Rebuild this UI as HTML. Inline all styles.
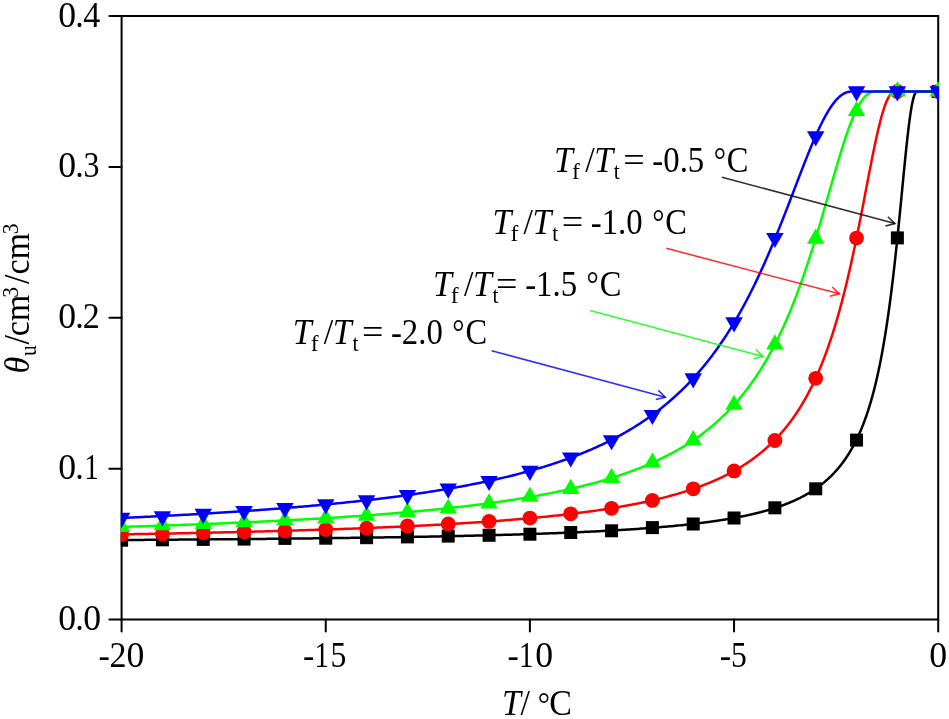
<!DOCTYPE html>
<html><head><meta charset="utf-8"><style>
html,body{margin:0;padding:0;background:#fff;}
svg{display:block;will-change:transform;}
text{font-family:"Liberation Serif",serif;fill:#000;}
</style></head><body>
<svg width="949" height="719" viewBox="0 0 949 719">
<defs><clipPath id="clip"><rect x="120.8" y="0" width="818.20" height="719"/></clipPath></defs>
<rect width="949" height="719" fill="#fff"/>
<g stroke="#000" stroke-width="2" fill="none">
<path d="M121.60,619.60 L121.60,16.10 L938.20,16.10 L938.20,619.60 Z"/>
<line x1="109.4" y1="619.60" x2="121.60" y2="619.60" stroke-linecap="round"/><line x1="109.4" y1="468.73" x2="121.60" y2="468.73" stroke-linecap="round"/><line x1="109.4" y1="317.85" x2="121.60" y2="317.85" stroke-linecap="round"/><line x1="109.4" y1="166.98" x2="121.60" y2="166.98" stroke-linecap="round"/><line x1="109.4" y1="16.10" x2="121.60" y2="16.10" stroke-linecap="round"/><line x1="121.60" y1="619.60" x2="121.60" y2="631.5" stroke-linecap="round"/><line x1="325.75" y1="619.60" x2="325.75" y2="631.5" stroke-linecap="round"/><line x1="529.90" y1="619.60" x2="529.90" y2="631.5" stroke-linecap="round"/><line x1="734.05" y1="619.60" x2="734.05" y2="631.5" stroke-linecap="round"/><line x1="938.20" y1="619.60" x2="938.20" y2="631.5" stroke-linecap="round"/>
</g>
<path d="M121.60,540.02 L123.60,540.01 L125.60,540.00 L127.60,539.98 L129.60,539.97 L131.60,539.96 L133.60,539.95 L135.60,539.93 L137.60,539.92 L139.60,539.91 L141.60,539.89 L143.60,539.88 L145.60,539.87 L147.60,539.85 L149.60,539.84 L151.60,539.82 L153.60,539.81 L155.60,539.80 L157.60,539.78 L159.60,539.77 L161.60,539.76 L163.60,539.74 L165.60,539.73 L167.60,539.71 L169.60,539.70 L171.60,539.68 L173.60,539.67 L175.60,539.65 L177.60,539.64 L179.60,539.62 L181.60,539.61 L183.60,539.59 L185.60,539.58 L187.60,539.56 L189.60,539.55 L191.60,539.53 L193.60,539.52 L195.60,539.50 L197.60,539.49 L199.60,539.47 L201.60,539.45 L203.60,539.44 L205.60,539.42 L207.60,539.40 L209.60,539.39 L211.60,539.37 L213.60,539.36 L215.60,539.34 L217.60,539.32 L219.60,539.30 L221.60,539.29 L223.60,539.27 L225.60,539.25 L227.60,539.24 L229.60,539.22 L231.60,539.20 L233.60,539.18 L235.60,539.16 L237.60,539.15 L239.60,539.13 L241.60,539.11 L243.60,539.09 L245.60,539.07 L247.60,539.06 L249.60,539.04 L251.60,539.02 L253.60,539.00 L255.60,538.98 L257.60,538.96 L259.60,538.94 L261.60,538.92 L263.60,538.90 L265.60,538.88 L267.60,538.86 L269.60,538.84 L271.60,538.82 L273.60,538.80 L275.60,538.78 L277.60,538.76 L279.60,538.74 L281.60,538.72 L283.60,538.70 L285.60,538.67 L287.60,538.65 L289.60,538.63 L291.60,538.61 L293.60,538.59 L295.60,538.57 L297.60,538.54 L299.60,538.52 L301.60,538.50 L303.60,538.48 L305.60,538.45 L307.60,538.43 L309.60,538.41 L311.60,538.38 L313.60,538.36 L315.60,538.34 L317.60,538.31 L319.60,538.29 L321.60,538.26 L323.60,538.24 L325.60,538.21 L327.60,538.19 L329.60,538.16 L331.60,538.14 L333.60,538.11 L335.60,538.09 L337.60,538.06 L339.60,538.03 L341.60,538.01 L343.60,537.98 L345.60,537.95 L347.60,537.93 L349.60,537.90 L351.60,537.87 L353.60,537.85 L355.60,537.82 L357.60,537.79 L359.60,537.76 L361.60,537.73 L363.60,537.70 L365.60,537.67 L367.60,537.64 L369.60,537.62 L371.60,537.59 L373.60,537.56 L375.60,537.53 L377.60,537.49 L379.60,537.46 L381.60,537.43 L383.60,537.40 L385.60,537.37 L387.60,537.34 L389.60,537.31 L391.60,537.27 L393.60,537.24 L395.60,537.21 L397.60,537.17 L399.60,537.14 L401.60,537.11 L403.60,537.07 L405.60,537.04 L407.60,537.00 L409.60,536.97 L411.60,536.93 L413.60,536.90 L415.60,536.86 L417.60,536.82 L419.60,536.79 L421.60,536.75 L423.60,536.71 L425.60,536.67 L427.60,536.64 L429.60,536.60 L431.60,536.56 L433.60,536.52 L435.60,536.48 L437.60,536.44 L439.60,536.40 L441.60,536.36 L443.60,536.32 L445.60,536.27 L447.60,536.23 L449.60,536.19 L451.60,536.15 L453.60,536.10 L455.60,536.06 L457.60,536.02 L459.60,535.97 L461.60,535.93 L463.60,535.88 L465.60,535.83 L467.60,535.79 L469.60,535.74 L471.60,535.69 L473.60,535.64 L475.60,535.60 L477.60,535.55 L479.60,535.50 L481.60,535.45 L483.60,535.40 L485.60,535.35 L487.60,535.29 L489.60,535.24 L491.60,535.19 L493.60,535.14 L495.60,535.08 L497.60,535.03 L499.60,534.97 L501.60,534.92 L503.60,534.86 L505.60,534.80 L507.60,534.75 L509.60,534.69 L511.60,534.63 L513.60,534.57 L515.60,534.51 L517.60,534.45 L519.60,534.39 L521.60,534.32 L523.60,534.26 L525.60,534.20 L527.60,534.13 L529.60,534.07 L531.60,534.00 L533.60,533.93 L535.60,533.87 L537.60,533.80 L539.60,533.73 L541.60,533.66 L543.60,533.59 L545.60,533.52 L547.60,533.44 L549.60,533.37 L551.60,533.29 L553.60,533.22 L555.60,533.14 L557.60,533.06 L559.60,532.99 L561.60,532.91 L563.60,532.83 L565.60,532.74 L567.60,532.66 L569.60,532.58 L571.60,532.49 L573.60,532.41 L575.60,532.32 L577.60,532.23 L579.60,532.14 L581.60,532.05 L583.60,531.96 L585.60,531.86 L587.60,531.77 L589.60,531.67 L591.60,531.58 L593.60,531.48 L595.60,531.38 L597.60,531.27 L599.60,531.17 L601.60,531.07 L603.60,530.96 L605.60,530.85 L607.60,530.74 L609.60,530.63 L611.60,530.52 L613.60,530.41 L615.60,530.29 L617.60,530.17 L619.60,530.05 L621.60,529.93 L623.60,529.81 L625.60,529.68 L627.60,529.56 L629.60,529.43 L631.60,529.29 L633.60,529.16 L635.60,529.03 L637.60,528.89 L639.60,528.75 L641.60,528.60 L643.60,528.46 L645.60,528.31 L647.60,528.16 L649.60,528.01 L651.60,527.85 L653.60,527.70 L655.60,527.54 L657.60,527.37 L659.60,527.21 L661.60,527.04 L663.60,526.86 L665.60,526.69 L667.60,526.51 L669.60,526.33 L671.60,526.14 L673.60,525.95 L675.60,525.76 L677.60,525.57 L679.60,525.37 L681.60,525.16 L683.60,524.95 L685.60,524.74 L687.60,524.53 L689.60,524.30 L691.60,524.08 L693.60,523.85 L695.60,523.62 L697.60,523.38 L699.60,523.13 L700.00,523.08 L700.25,523.05 L700.50,523.02 L700.75,522.99 L701.00,522.96 L701.25,522.93 L701.50,522.90 L701.75,522.86 L702.00,522.83 L702.25,522.80 L702.50,522.77 L702.75,522.74 L703.00,522.71 L703.25,522.67 L703.50,522.64 L703.75,522.61 L704.00,522.58 L704.25,522.54 L704.50,522.51 L704.75,522.48 L705.00,522.45 L705.25,522.41 L705.50,522.38 L705.75,522.35 L706.00,522.32 L706.25,522.28 L706.50,522.25 L706.75,522.22 L707.00,522.18 L707.25,522.15 L707.50,522.12 L707.75,522.08 L708.00,522.05 L708.25,522.01 L708.50,521.98 L708.75,521.95 L709.00,521.91 L709.25,521.88 L709.50,521.84 L709.75,521.81 L710.00,521.78 L710.25,521.74 L710.50,521.71 L710.75,521.67 L711.00,521.64 L711.25,521.60 L711.50,521.57 L711.75,521.53 L712.00,521.50 L712.25,521.46 L712.50,521.43 L712.75,521.39 L713.00,521.35 L713.25,521.32 L713.50,521.28 L713.75,521.25 L714.00,521.21 L714.25,521.17 L714.50,521.14 L714.75,521.10 L715.00,521.07 L715.25,521.03 L715.50,520.99 L715.75,520.96 L716.00,520.92 L716.25,520.88 L716.50,520.84 L716.75,520.81 L717.00,520.77 L717.25,520.73 L717.50,520.70 L717.75,520.66 L718.00,520.62 L718.25,520.58 L718.50,520.54 L718.75,520.51 L719.00,520.47 L719.25,520.43 L719.50,520.39 L719.75,520.35 L720.00,520.32 L720.25,520.28 L720.50,520.24 L720.75,520.20 L721.00,520.16 L721.25,520.12 L721.50,520.08 L721.75,520.04 L722.00,520.00 L722.25,519.96 L722.50,519.92 L722.75,519.88 L723.00,519.84 L723.25,519.80 L723.50,519.76 L723.75,519.72 L724.00,519.68 L724.25,519.64 L724.50,519.60 L724.75,519.56 L725.00,519.52 L725.25,519.48 L725.50,519.44 L725.75,519.40 L726.00,519.36 L726.25,519.31 L726.50,519.27 L726.75,519.23 L727.00,519.19 L727.25,519.15 L727.50,519.10 L727.75,519.06 L728.00,519.02 L728.25,518.98 L728.50,518.93 L728.75,518.89 L729.00,518.85 L729.25,518.81 L729.50,518.76 L729.75,518.72 L730.00,518.68 L730.25,518.63 L730.50,518.59 L730.75,518.54 L731.00,518.50 L731.25,518.46 L731.50,518.41 L731.75,518.37 L732.00,518.32 L732.25,518.28 L732.50,518.23 L732.75,518.19 L733.00,518.14 L733.25,518.10 L733.50,518.05 L733.75,518.01 L734.00,517.96 L734.25,517.92 L734.50,517.87 L734.75,517.83 L735.00,517.78 L735.25,517.73 L735.50,517.69 L735.75,517.64 L736.00,517.59 L736.25,517.55 L736.50,517.50 L736.75,517.45 L737.00,517.40 L737.25,517.36 L737.50,517.31 L737.75,517.26 L738.00,517.21 L738.25,517.17 L738.50,517.12 L738.75,517.07 L739.00,517.02 L739.25,516.97 L739.50,516.92 L739.75,516.87 L740.00,516.82 L740.25,516.78 L740.50,516.73 L740.75,516.68 L741.00,516.63 L741.25,516.58 L741.50,516.53 L741.75,516.48 L742.00,516.43 L742.25,516.38 L742.50,516.32 L742.75,516.27 L743.00,516.22 L743.25,516.17 L743.50,516.12 L743.75,516.07 L744.00,516.02 L744.25,515.96 L744.50,515.91 L744.75,515.86 L745.00,515.81 L745.25,515.75 L745.50,515.70 L745.75,515.65 L746.00,515.60 L746.25,515.54 L746.50,515.49 L746.75,515.43 L747.00,515.38 L747.25,515.33 L747.50,515.27 L747.75,515.22 L748.00,515.16 L748.25,515.11 L748.50,515.05 L748.75,515.00 L749.00,514.94 L749.25,514.89 L749.50,514.83 L749.75,514.78 L750.00,514.72 L750.25,514.66 L750.50,514.61 L750.75,514.55 L751.00,514.49 L751.25,514.44 L751.50,514.38 L751.75,514.32 L752.00,514.26 L752.25,514.21 L752.50,514.15 L752.75,514.09 L753.00,514.03 L753.25,513.97 L753.50,513.91 L753.75,513.86 L754.00,513.80 L754.25,513.74 L754.50,513.68 L754.75,513.62 L755.00,513.56 L755.25,513.50 L755.50,513.44 L755.75,513.38 L756.00,513.31 L756.25,513.25 L756.50,513.19 L756.75,513.13 L757.00,513.07 L757.25,513.01 L757.50,512.94 L757.75,512.88 L758.00,512.82 L758.25,512.76 L758.50,512.69 L758.75,512.63 L759.00,512.57 L759.25,512.50 L759.50,512.44 L759.75,512.37 L760.00,512.31 L760.25,512.24 L760.50,512.18 L760.75,512.11 L761.00,512.05 L761.25,511.98 L761.50,511.92 L761.75,511.85 L762.00,511.78 L762.25,511.72 L762.50,511.65 L762.75,511.58 L763.00,511.52 L763.25,511.45 L763.50,511.38 L763.75,511.31 L764.00,511.24 L764.25,511.18 L764.50,511.11 L764.75,511.04 L765.00,510.97 L765.25,510.90 L765.50,510.83 L765.75,510.76 L766.00,510.69 L766.25,510.62 L766.50,510.55 L766.75,510.48 L767.00,510.40 L767.25,510.33 L767.50,510.26 L767.75,510.19 L768.00,510.12 L768.25,510.04 L768.50,509.97 L768.75,509.90 L769.00,509.82 L769.25,509.75 L769.50,509.67 L769.75,509.60 L770.00,509.52 L770.25,509.45 L770.50,509.37 L770.75,509.30 L771.00,509.22 L771.25,509.15 L771.50,509.07 L771.75,508.99 L772.00,508.92 L772.25,508.84 L772.50,508.76 L772.75,508.68 L773.00,508.60 L773.25,508.53 L773.50,508.45 L773.75,508.37 L774.00,508.29 L774.25,508.21 L774.50,508.13 L774.75,508.05 L775.00,507.97 L775.25,507.88 L775.50,507.80 L775.75,507.72 L776.00,507.64 L776.25,507.56 L776.50,507.47 L776.75,507.39 L777.00,507.31 L777.25,507.22 L777.50,507.14 L777.75,507.05 L778.00,506.97 L778.25,506.88 L778.50,506.80 L778.75,506.71 L779.00,506.63 L779.25,506.54 L779.50,506.45 L779.75,506.37 L780.00,506.28 L780.25,506.19 L780.50,506.10 L780.75,506.01 L781.00,505.92 L781.25,505.83 L781.50,505.74 L781.75,505.65 L782.00,505.56 L782.25,505.47 L782.50,505.38 L782.75,505.29 L783.00,505.20 L783.25,505.11 L783.50,505.01 L783.75,504.92 L784.00,504.83 L784.25,504.73 L784.50,504.64 L784.75,504.54 L785.00,504.45 L785.25,504.35 L785.50,504.25 L785.75,504.16 L786.00,504.06 L786.25,503.96 L786.50,503.87 L786.75,503.77 L787.00,503.67 L787.25,503.57 L787.50,503.47 L787.75,503.37 L788.00,503.27 L788.25,503.17 L788.50,503.07 L788.75,502.97 L789.00,502.87 L789.25,502.76 L789.50,502.66 L789.75,502.56 L790.00,502.45 L790.25,502.35 L790.50,502.24 L790.75,502.14 L791.00,502.03 L791.25,501.93 L791.50,501.82 L791.75,501.71 L792.00,501.60 L792.25,501.50 L792.50,501.39 L792.75,501.28 L793.00,501.17 L793.25,501.06 L793.50,500.95 L793.75,500.84 L794.00,500.73 L794.25,500.61 L794.50,500.50 L794.75,500.39 L795.00,500.27 L795.25,500.16 L795.50,500.05 L795.75,499.93 L796.00,499.81 L796.25,499.70 L796.50,499.58 L796.75,499.46 L797.00,499.35 L797.25,499.23 L797.50,499.11 L797.75,498.99 L798.00,498.87 L798.25,498.75 L798.50,498.63 L798.75,498.51 L799.00,498.38 L799.25,498.26 L799.50,498.14 L799.75,498.01 L800.00,497.89 L800.25,497.76 L800.50,497.64 L800.75,497.51 L801.00,497.38 L801.25,497.26 L801.50,497.13 L801.75,497.00 L802.00,496.87 L802.25,496.74 L802.50,496.61 L802.75,496.48 L803.00,496.34 L803.25,496.21 L803.50,496.08 L803.75,495.94 L804.00,495.81 L804.25,495.67 L804.50,495.54 L804.75,495.40 L805.00,495.26 L805.25,495.13 L805.50,494.99 L805.75,494.85 L806.00,494.71 L806.25,494.57 L806.50,494.42 L806.75,494.28 L807.00,494.14 L807.25,494.00 L807.50,493.85 L807.75,493.71 L808.00,493.56 L808.25,493.41 L808.50,493.27 L808.75,493.12 L809.00,492.97 L809.25,492.82 L809.50,492.67 L809.75,492.52 L810.00,492.37 L810.25,492.21 L810.50,492.06 L810.75,491.90 L811.00,491.75 L811.25,491.59 L811.50,491.44 L811.75,491.28 L812.00,491.12 L812.25,490.96 L812.50,490.80 L812.75,490.64 L813.00,490.48 L813.25,490.32 L813.50,490.15 L813.75,489.99 L814.00,489.82 L814.25,489.66 L814.50,489.49 L814.75,489.32 L815.00,489.15 L815.25,488.98 L815.50,488.81 L815.75,488.64 L816.00,488.47 L816.25,488.29 L816.50,488.12 L816.75,487.94 L817.00,487.77 L817.25,487.59 L817.50,487.41 L817.75,487.23 L818.00,487.05 L818.25,486.87 L818.50,486.69 L818.75,486.51 L819.00,486.32 L819.25,486.14 L819.50,485.95 L819.75,485.76 L820.00,485.57 L820.25,485.38 L820.50,485.19 L820.75,485.00 L821.00,484.81 L821.25,484.61 L821.50,484.42 L821.75,484.22 L822.00,484.03 L822.25,483.83 L822.50,483.63 L822.75,483.43 L823.00,483.23 L823.25,483.02 L823.50,482.82 L823.75,482.61 L824.00,482.41 L824.25,482.20 L824.50,481.99 L824.75,481.78 L825.00,481.57 L825.25,481.35 L825.50,481.14 L825.75,480.93 L826.00,480.71 L826.25,480.49 L826.50,480.27 L826.75,480.05 L827.00,479.83 L827.25,479.61 L827.50,479.38 L827.75,479.16 L828.00,478.93 L828.25,478.70 L828.50,478.47 L828.75,478.24 L829.00,478.00 L829.25,477.77 L829.50,477.53 L829.75,477.30 L830.00,477.06 L830.25,476.82 L830.50,476.58 L830.75,476.33 L831.00,476.09 L831.25,475.84 L831.50,475.59 L831.75,475.35 L832.00,475.09 L832.25,474.84 L832.50,474.59 L832.75,474.33 L833.00,474.07 L833.25,473.81 L833.50,473.55 L833.75,473.29 L834.00,473.03 L834.25,472.76 L834.50,472.49 L834.75,472.22 L835.00,471.95 L835.25,471.68 L835.50,471.41 L835.75,471.13 L836.00,470.85 L836.25,470.57 L836.50,470.29 L836.75,470.01 L837.00,469.72 L837.25,469.43 L837.50,469.14 L837.75,468.85 L838.00,468.56 L838.25,468.26 L838.50,467.96 L838.75,467.67 L839.00,467.36 L839.25,467.06 L839.50,466.75 L839.75,466.45 L840.00,466.14 L840.25,465.82 L840.50,465.51 L840.75,465.19 L841.00,464.88 L841.25,464.56 L841.50,464.23 L841.75,463.91 L842.00,463.58 L842.25,463.25 L842.50,462.92 L842.75,462.58 L843.00,462.25 L843.25,461.91 L843.50,461.56 L843.75,461.22 L844.00,460.87 L844.25,460.52 L844.50,460.17 L844.75,459.82 L845.00,459.46 L845.25,459.10 L845.50,458.74 L845.75,458.38 L846.00,458.01 L846.25,457.64 L846.50,457.27 L846.75,456.89 L847.00,456.51 L847.25,456.13 L847.50,455.75 L847.75,455.36 L848.00,454.97 L848.25,454.58 L848.50,454.18 L848.75,453.78 L849.00,453.38 L849.25,452.98 L849.50,452.57 L849.75,452.16 L850.00,451.74 L850.25,451.33 L850.50,450.91 L850.75,450.48 L851.00,450.05 L851.25,449.62 L851.50,449.19 L851.75,448.75 L852.00,448.31 L852.25,447.87 L852.50,447.42 L852.75,446.97 L853.00,446.52 L853.25,446.06 L853.50,445.59 L853.75,445.13 L854.00,444.66 L854.25,444.19 L854.50,443.71 L854.75,443.23 L855.00,442.74 L855.25,442.25 L855.50,441.76 L855.75,441.26 L856.00,440.76 L856.25,440.26 L856.50,439.75 L856.75,439.24 L857.00,438.72 L857.25,438.20 L857.50,437.67 L857.75,437.14 L858.00,436.60 L858.25,436.06 L858.50,435.52 L858.75,434.97 L859.00,434.42 L859.25,433.86 L859.50,433.29 L859.75,432.73 L860.00,432.15 L860.25,431.57 L860.50,430.99 L860.75,430.40 L861.00,429.81 L861.25,429.21 L861.50,428.61 L861.75,428.00 L862.00,427.38 L862.25,426.76 L862.50,426.14 L862.75,425.51 L863.00,424.87 L863.25,424.23 L863.50,423.58 L863.75,422.93 L864.00,422.27 L864.25,421.60 L864.50,420.93 L864.75,420.25 L865.00,419.57 L865.25,418.88 L865.50,418.18 L865.75,417.48 L866.00,416.77 L866.25,416.05 L866.50,415.33 L866.75,414.60 L867.00,413.86 L867.25,413.12 L867.50,412.37 L867.75,411.61 L868.00,410.85 L868.25,410.07 L868.50,409.30 L868.75,408.51 L869.00,407.71 L869.25,406.91 L869.50,406.10 L869.75,405.29 L870.00,404.46 L870.25,403.63 L870.50,402.79 L870.75,401.94 L871.00,401.08 L871.25,400.21 L871.50,399.34 L871.75,398.46 L872.00,397.56 L872.25,396.66 L872.50,395.75 L872.75,394.83 L873.00,393.91 L873.25,392.97 L873.50,392.02 L873.75,391.07 L874.00,390.10 L874.25,389.12 L874.50,388.14 L874.75,387.14 L875.00,386.14 L875.25,385.12 L875.50,384.10 L875.75,383.06 L876.00,382.01 L876.25,380.95 L876.50,379.89 L876.75,378.81 L877.00,377.72 L877.25,376.61 L877.50,375.50 L877.75,374.37 L878.00,373.24 L878.25,372.09 L878.50,370.93 L878.75,369.75 L879.00,368.57 L879.25,367.37 L879.50,366.16 L879.75,364.94 L880.00,363.70 L880.25,362.45 L880.50,361.19 L880.75,359.92 L881.00,358.63 L881.25,357.33 L881.50,356.01 L881.75,354.68 L882.00,353.33 L882.25,351.98 L882.50,350.60 L882.75,349.22 L883.00,347.81 L883.25,346.40 L883.50,344.96 L883.75,343.52 L884.00,342.05 L884.25,340.57 L884.50,339.08 L884.75,337.57 L885.00,336.04 L885.25,334.50 L885.50,332.94 L885.75,331.37 L886.00,329.78 L886.25,328.17 L886.50,326.54 L886.75,324.90 L887.00,323.24 L887.25,321.56 L887.50,319.87 L887.75,318.15 L888.00,316.42 L888.25,314.68 L888.50,312.91 L888.75,311.13 L889.00,309.32 L889.25,307.50 L889.50,305.66 L889.75,303.80 L890.00,301.93 L890.25,300.03 L890.50,298.12 L890.75,296.18 L891.00,294.23 L891.25,292.26 L891.50,290.27 L891.75,288.26 L892.00,286.23 L892.25,284.18 L892.50,282.12 L892.75,280.03 L893.00,277.93 L893.25,275.80 L893.50,273.66 L893.75,271.50 L894.00,269.32 L894.25,267.12 L894.50,264.90 L894.75,262.66 L895.00,260.41 L895.25,258.13 L895.50,255.84 L895.75,253.54 L896.00,251.21 L896.25,248.87 L896.50,246.51 L896.75,244.13 L897.00,241.74 L897.25,239.33 L897.50,236.91 L897.75,234.47 L898.00,232.02 L898.25,229.55 L898.50,227.07 L898.75,224.58 L899.00,222.08 L899.25,219.56 L899.50,217.03 L899.75,214.50 L900.00,211.95 L900.25,209.40 L900.50,206.84 L900.75,204.27 L901.00,201.70 L901.25,199.12 L901.50,196.54 L901.75,193.96 L902.00,191.37 L902.25,188.79 L902.50,186.20 L902.75,183.62 L903.00,181.04 L903.25,178.47 L903.50,175.91 L903.75,173.35 L904.00,170.80 L904.25,168.26 L904.50,165.74 L904.75,163.23 L905.00,160.73 L905.25,158.25 L905.50,155.80 L905.75,153.36 L906.00,150.94 L906.25,148.55 L906.50,146.19 L906.75,143.85 L907.00,141.55 L907.25,139.28 L907.50,137.04 L907.75,134.83 L908.00,132.67 L908.25,130.54 L908.50,128.45 L908.75,126.41 L909.00,124.41 L909.25,122.46 L909.50,120.56 L909.75,118.71 L910.00,116.91 L910.25,115.16 L910.50,113.47 L910.75,111.83 L911.00,110.25 L911.25,108.74 L911.50,107.28 L911.75,105.88 L912.00,104.55 L912.25,103.28 L912.50,102.07 L912.75,100.93 L913.00,99.86 L913.25,98.85 L913.50,97.91 L913.75,97.04 L914.00,96.23 L914.25,95.49 L914.50,94.82 L914.75,94.21 L915.00,93.67 L915.25,93.19 L915.50,92.78 L915.75,92.43 L916.00,92.15 L916.25,91.92 L916.50,91.75 L916.75,91.63 L917.00,91.56 L917.25,91.54 L917.50,91.54 L917.75,91.54 L918.00,91.54 L918.25,91.54 L918.50,91.54 L918.75,91.54 L919.00,91.54 L919.25,91.54 L919.50,91.54 L919.75,91.54 L920.00,91.54 L920.25,91.54 L920.50,91.54 L920.75,91.54 L921.00,91.54 L921.25,91.54 L921.50,91.54 L921.75,91.54 L922.00,91.54 L922.25,91.54 L922.50,91.54 L922.75,91.54 L923.00,91.54 L923.25,91.54 L923.50,91.54 L923.75,91.54 L924.00,91.54 L924.25,91.54 L924.50,91.54 L924.75,91.54 L925.00,91.54 L925.25,91.54 L925.50,91.54 L925.75,91.54 L926.00,91.54 L926.25,91.54 L926.50,91.54 L926.75,91.54 L927.00,91.54 L927.25,91.54 L927.50,91.54 L927.75,91.54 L928.00,91.54 L928.25,91.54 L928.50,91.54 L928.75,91.54 L929.00,91.54 L929.25,91.54 L929.50,91.54 L929.75,91.54 L930.00,91.54 L930.25,91.54 L930.50,91.54 L930.75,91.54 L931.00,91.54 L931.25,91.54 L931.50,91.54 L931.75,91.54 L932.00,91.54 L932.25,91.54 L932.50,91.54 L932.75,91.54 L933.00,91.54 L933.25,91.54 L933.50,91.54 L933.75,91.54 L934.00,91.54 L934.25,91.54 L934.50,91.54 L934.75,91.54 L935.00,91.54 L935.25,91.54 L935.50,91.54 L935.75,91.54 L936.00,91.54 L936.25,91.54 L936.50,91.54 L936.75,91.54 L937.00,91.54 L937.25,91.54 L937.50,91.54 L937.75,91.54 L938.00,91.54" fill="none" stroke="#000000" stroke-width="2.5" stroke-linejoin="round"/>
<g fill="#000000" clip-path="url(#clip)"><rect x="115.10" y="533.70" width="13.0" height="13.0"/>
<rect x="155.93" y="533.30" width="13.0" height="13.0"/>
<rect x="196.76" y="532.90" width="13.0" height="13.0"/>
<rect x="237.59" y="532.60" width="13.0" height="13.0"/>
<rect x="278.42" y="531.90" width="13.0" height="13.0"/>
<rect x="319.25" y="531.70" width="13.0" height="13.0"/>
<rect x="360.08" y="531.20" width="13.0" height="13.0"/>
<rect x="400.91" y="530.40" width="13.0" height="13.0"/>
<rect x="441.74" y="529.60" width="13.0" height="13.0"/>
<rect x="482.57" y="528.80" width="13.0" height="13.0"/>
<rect x="523.40" y="527.70" width="13.0" height="13.0"/>
<rect x="564.23" y="526.00" width="13.0" height="13.0"/>
<rect x="605.06" y="524.30" width="13.0" height="13.0"/>
<rect x="645.89" y="521.10" width="13.0" height="13.0"/>
<rect x="686.72" y="517.50" width="13.0" height="13.0"/>
<rect x="727.55" y="511.50" width="13.0" height="13.0"/>
<rect x="768.38" y="501.30" width="13.0" height="13.0"/>
<rect x="809.21" y="482.30" width="13.0" height="13.0"/>
<rect x="850.04" y="433.60" width="13.0" height="13.0"/>
<rect x="890.87" y="231.40" width="13.0" height="13.0"/>
<rect x="931.70" y="84.90" width="13.0" height="13.0"/></g>
<path d="M121.60,534.35 L123.60,534.32 L125.60,534.28 L127.60,534.25 L129.60,534.22 L131.60,534.18 L133.60,534.15 L135.60,534.11 L137.60,534.08 L139.60,534.04 L141.60,534.01 L143.60,533.97 L145.60,533.94 L147.60,533.90 L149.60,533.87 L151.60,533.83 L153.60,533.79 L155.60,533.76 L157.60,533.72 L159.60,533.68 L161.60,533.65 L163.60,533.61 L165.60,533.57 L167.60,533.53 L169.60,533.49 L171.60,533.46 L173.60,533.42 L175.60,533.38 L177.60,533.34 L179.60,533.30 L181.60,533.26 L183.60,533.22 L185.60,533.18 L187.60,533.14 L189.60,533.10 L191.60,533.06 L193.60,533.02 L195.60,532.98 L197.60,532.93 L199.60,532.89 L201.60,532.85 L203.60,532.81 L205.60,532.76 L207.60,532.72 L209.60,532.68 L211.60,532.63 L213.60,532.59 L215.60,532.54 L217.60,532.50 L219.60,532.45 L221.60,532.41 L223.60,532.36 L225.60,532.32 L227.60,532.27 L229.60,532.22 L231.60,532.18 L233.60,532.13 L235.60,532.08 L237.60,532.04 L239.60,531.99 L241.60,531.94 L243.60,531.89 L245.60,531.84 L247.60,531.79 L249.60,531.74 L251.60,531.69 L253.60,531.64 L255.60,531.59 L257.60,531.54 L259.60,531.49 L261.60,531.43 L263.60,531.38 L265.60,531.33 L267.60,531.28 L269.60,531.22 L271.60,531.17 L273.60,531.11 L275.60,531.06 L277.60,531.00 L279.60,530.95 L281.60,530.89 L283.60,530.84 L285.60,530.78 L287.60,530.72 L289.60,530.66 L291.60,530.61 L293.60,530.55 L295.60,530.49 L297.60,530.43 L299.60,530.37 L301.60,530.31 L303.60,530.25 L305.60,530.19 L307.60,530.12 L309.60,530.06 L311.60,530.00 L313.60,529.93 L315.60,529.87 L317.60,529.81 L319.60,529.74 L321.60,529.68 L323.60,529.61 L325.60,529.54 L327.60,529.48 L329.60,529.41 L331.60,529.34 L333.60,529.27 L335.60,529.20 L337.60,529.13 L339.60,529.06 L341.60,528.99 L343.60,528.92 L345.60,528.85 L347.60,528.78 L349.60,528.70 L351.60,528.63 L353.60,528.56 L355.60,528.48 L357.60,528.40 L359.60,528.33 L361.60,528.25 L363.60,528.17 L365.60,528.09 L367.60,528.02 L369.60,527.94 L371.60,527.86 L373.60,527.77 L375.60,527.69 L377.60,527.61 L379.60,527.53 L381.60,527.44 L383.60,527.36 L385.60,527.27 L387.60,527.19 L389.60,527.10 L391.60,527.01 L393.60,526.92 L395.60,526.83 L397.60,526.74 L399.60,526.65 L401.60,526.56 L403.60,526.47 L405.60,526.37 L407.60,526.28 L409.60,526.18 L411.60,526.09 L413.60,525.99 L415.60,525.89 L417.60,525.79 L419.60,525.69 L421.60,525.59 L423.60,525.49 L425.60,525.39 L427.60,525.28 L429.60,525.18 L431.60,525.07 L433.60,524.96 L435.60,524.85 L437.60,524.75 L439.60,524.64 L441.60,524.52 L443.60,524.41 L445.60,524.30 L447.60,524.18 L449.60,524.07 L451.60,523.95 L453.60,523.83 L455.60,523.71 L457.60,523.59 L459.60,523.47 L461.60,523.34 L463.60,523.22 L465.60,523.09 L467.60,522.97 L469.60,522.84 L471.60,522.71 L473.60,522.58 L475.60,522.44 L477.60,522.31 L479.60,522.17 L481.60,522.03 L483.60,521.90 L485.60,521.75 L487.60,521.61 L489.60,521.47 L491.60,521.32 L493.60,521.18 L495.60,521.03 L497.60,520.88 L499.60,520.73 L501.60,520.57 L503.60,520.42 L505.60,520.26 L507.60,520.10 L509.60,519.94 L511.60,519.78 L513.60,519.61 L515.60,519.44 L517.60,519.28 L519.60,519.10 L521.60,518.93 L523.60,518.76 L525.60,518.58 L527.60,518.40 L529.60,518.22 L531.60,518.03 L533.60,517.85 L535.60,517.66 L537.60,517.47 L539.60,517.28 L541.60,517.08 L543.60,516.88 L545.60,516.68 L547.60,516.48 L549.60,516.27 L551.60,516.06 L553.60,515.85 L555.60,515.63 L557.60,515.42 L559.60,515.20 L561.60,514.97 L563.60,514.75 L565.60,514.52 L567.60,514.29 L569.60,514.05 L571.60,513.81 L573.60,513.57 L575.60,513.32 L577.60,513.07 L579.60,512.82 L581.60,512.56 L583.60,512.30 L585.60,512.04 L587.60,511.77 L589.60,511.50 L591.60,511.22 L593.60,510.94 L595.60,510.66 L597.60,510.37 L599.60,510.08 L601.60,509.78 L603.60,509.48 L605.60,509.17 L607.60,508.86 L609.60,508.54 L611.60,508.22 L613.60,507.89 L615.60,507.56 L617.60,507.22 L619.60,506.88 L621.60,506.53 L623.60,506.18 L625.60,505.82 L627.60,505.45 L629.60,505.08 L631.60,504.70 L633.60,504.32 L635.60,503.93 L637.60,503.53 L639.60,503.12 L641.60,502.71 L643.60,502.29 L645.60,501.86 L647.60,501.43 L649.60,500.99 L651.60,500.54 L653.60,500.08 L655.60,499.61 L657.60,499.13 L659.60,498.65 L661.60,498.15 L663.60,497.65 L665.60,497.13 L667.60,496.61 L669.60,496.08 L671.60,495.53 L673.60,494.98 L675.60,494.41 L677.60,493.83 L679.60,493.24 L681.60,492.64 L683.60,492.02 L685.60,491.40 L687.60,490.76 L689.60,490.10 L691.60,489.43 L693.60,488.75 L695.60,488.05 L697.60,487.34 L699.60,486.61 L700.00,486.46 L700.25,486.37 L700.50,486.27 L700.75,486.18 L701.00,486.09 L701.25,485.99 L701.50,485.90 L701.75,485.80 L702.00,485.71 L702.25,485.62 L702.50,485.52 L702.75,485.42 L703.00,485.33 L703.25,485.23 L703.50,485.14 L703.75,485.04 L704.00,484.94 L704.25,484.85 L704.50,484.75 L704.75,484.65 L705.00,484.55 L705.25,484.46 L705.50,484.36 L705.75,484.26 L706.00,484.16 L706.25,484.06 L706.50,483.96 L706.75,483.86 L707.00,483.76 L707.25,483.66 L707.50,483.56 L707.75,483.46 L708.00,483.36 L708.25,483.26 L708.50,483.15 L708.75,483.05 L709.00,482.95 L709.25,482.85 L709.50,482.74 L709.75,482.64 L710.00,482.54 L710.25,482.43 L710.50,482.33 L710.75,482.22 L711.00,482.12 L711.25,482.01 L711.50,481.91 L711.75,481.80 L712.00,481.69 L712.25,481.59 L712.50,481.48 L712.75,481.37 L713.00,481.27 L713.25,481.16 L713.50,481.05 L713.75,480.94 L714.00,480.83 L714.25,480.72 L714.50,480.62 L714.75,480.51 L715.00,480.40 L715.25,480.29 L715.50,480.17 L715.75,480.06 L716.00,479.95 L716.25,479.84 L716.50,479.73 L716.75,479.62 L717.00,479.50 L717.25,479.39 L717.50,479.28 L717.75,479.16 L718.00,479.05 L718.25,478.93 L718.50,478.82 L718.75,478.70 L719.00,478.59 L719.25,478.47 L719.50,478.36 L719.75,478.24 L720.00,478.12 L720.25,478.01 L720.50,477.89 L720.75,477.77 L721.00,477.65 L721.25,477.53 L721.50,477.41 L721.75,477.30 L722.00,477.18 L722.25,477.06 L722.50,476.93 L722.75,476.81 L723.00,476.69 L723.25,476.57 L723.50,476.45 L723.75,476.33 L724.00,476.20 L724.25,476.08 L724.50,475.96 L724.75,475.83 L725.00,475.71 L725.25,475.58 L725.50,475.46 L725.75,475.33 L726.00,475.21 L726.25,475.08 L726.50,474.95 L726.75,474.83 L727.00,474.70 L727.25,474.57 L727.50,474.44 L727.75,474.31 L728.00,474.18 L728.25,474.05 L728.50,473.92 L728.75,473.79 L729.00,473.66 L729.25,473.53 L729.50,473.40 L729.75,473.27 L730.00,473.14 L730.25,473.00 L730.50,472.87 L730.75,472.73 L731.00,472.60 L731.25,472.47 L731.50,472.33 L731.75,472.19 L732.00,472.06 L732.25,471.92 L732.50,471.79 L732.75,471.65 L733.00,471.51 L733.25,471.37 L733.50,471.23 L733.75,471.09 L734.00,470.95 L734.25,470.81 L734.50,470.67 L734.75,470.53 L735.00,470.39 L735.25,470.25 L735.50,470.11 L735.75,469.96 L736.00,469.82 L736.25,469.68 L736.50,469.53 L736.75,469.39 L737.00,469.24 L737.25,469.10 L737.50,468.95 L737.75,468.80 L738.00,468.65 L738.25,468.51 L738.50,468.36 L738.75,468.21 L739.00,468.06 L739.25,467.91 L739.50,467.76 L739.75,467.61 L740.00,467.46 L740.25,467.31 L740.50,467.15 L740.75,467.00 L741.00,466.85 L741.25,466.69 L741.50,466.54 L741.75,466.38 L742.00,466.23 L742.25,466.07 L742.50,465.92 L742.75,465.76 L743.00,465.60 L743.25,465.44 L743.50,465.28 L743.75,465.12 L744.00,464.96 L744.25,464.80 L744.50,464.64 L744.75,464.48 L745.00,464.32 L745.25,464.16 L745.50,463.99 L745.75,463.83 L746.00,463.66 L746.25,463.50 L746.50,463.33 L746.75,463.17 L747.00,463.00 L747.25,462.83 L747.50,462.67 L747.75,462.50 L748.00,462.33 L748.25,462.16 L748.50,461.99 L748.75,461.82 L749.00,461.64 L749.25,461.47 L749.50,461.30 L749.75,461.13 L750.00,460.95 L750.25,460.78 L750.50,460.60 L750.75,460.43 L751.00,460.25 L751.25,460.07 L751.50,459.89 L751.75,459.72 L752.00,459.54 L752.25,459.36 L752.50,459.18 L752.75,459.00 L753.00,458.81 L753.25,458.63 L753.50,458.45 L753.75,458.26 L754.00,458.08 L754.25,457.89 L754.50,457.71 L754.75,457.52 L755.00,457.33 L755.25,457.15 L755.50,456.96 L755.75,456.77 L756.00,456.58 L756.25,456.39 L756.50,456.20 L756.75,456.00 L757.00,455.81 L757.25,455.62 L757.50,455.42 L757.75,455.23 L758.00,455.03 L758.25,454.84 L758.50,454.64 L758.75,454.44 L759.00,454.24 L759.25,454.04 L759.50,453.84 L759.75,453.64 L760.00,453.44 L760.25,453.24 L760.50,453.03 L760.75,452.83 L761.00,452.63 L761.25,452.42 L761.50,452.21 L761.75,452.01 L762.00,451.80 L762.25,451.59 L762.50,451.38 L762.75,451.17 L763.00,450.96 L763.25,450.75 L763.50,450.53 L763.75,450.32 L764.00,450.10 L764.25,449.89 L764.50,449.67 L764.75,449.46 L765.00,449.24 L765.25,449.02 L765.50,448.80 L765.75,448.58 L766.00,448.36 L766.25,448.14 L766.50,447.91 L766.75,447.69 L767.00,447.46 L767.25,447.24 L767.50,447.01 L767.75,446.78 L768.00,446.56 L768.25,446.33 L768.50,446.10 L768.75,445.86 L769.00,445.63 L769.25,445.40 L769.50,445.17 L769.75,444.93 L770.00,444.69 L770.25,444.46 L770.50,444.22 L770.75,443.98 L771.00,443.74 L771.25,443.50 L771.50,443.26 L771.75,443.02 L772.00,442.77 L772.25,442.53 L772.50,442.28 L772.75,442.04 L773.00,441.79 L773.25,441.54 L773.50,441.29 L773.75,441.04 L774.00,440.79 L774.25,440.53 L774.50,440.28 L774.75,440.03 L775.00,439.77 L775.25,439.51 L775.50,439.26 L775.75,439.00 L776.00,438.74 L776.25,438.47 L776.50,438.21 L776.75,437.95 L777.00,437.68 L777.25,437.42 L777.50,437.15 L777.75,436.88 L778.00,436.61 L778.25,436.34 L778.50,436.07 L778.75,435.80 L779.00,435.53 L779.25,435.25 L779.50,434.98 L779.75,434.70 L780.00,434.42 L780.25,434.14 L780.50,433.86 L780.75,433.58 L781.00,433.30 L781.25,433.01 L781.50,432.73 L781.75,432.44 L782.00,432.15 L782.25,431.86 L782.50,431.57 L782.75,431.28 L783.00,430.99 L783.25,430.69 L783.50,430.40 L783.75,430.10 L784.00,429.80 L784.25,429.50 L784.50,429.20 L784.75,428.90 L785.00,428.59 L785.25,428.29 L785.50,427.98 L785.75,427.68 L786.00,427.37 L786.25,427.06 L786.50,426.75 L786.75,426.43 L787.00,426.12 L787.25,425.80 L787.50,425.49 L787.75,425.17 L788.00,424.85 L788.25,424.53 L788.50,424.20 L788.75,423.88 L789.00,423.55 L789.25,423.22 L789.50,422.90 L789.75,422.57 L790.00,422.23 L790.25,421.90 L790.50,421.57 L790.75,421.23 L791.00,420.89 L791.25,420.55 L791.50,420.21 L791.75,419.87 L792.00,419.53 L792.25,419.18 L792.50,418.83 L792.75,418.48 L793.00,418.13 L793.25,417.78 L793.50,417.43 L793.75,417.07 L794.00,416.72 L794.25,416.36 L794.50,416.00 L794.75,415.63 L795.00,415.27 L795.25,414.91 L795.50,414.54 L795.75,414.17 L796.00,413.80 L796.25,413.43 L796.50,413.05 L796.75,412.68 L797.00,412.30 L797.25,411.92 L797.50,411.54 L797.75,411.16 L798.00,410.77 L798.25,410.39 L798.50,410.00 L798.75,409.61 L799.00,409.22 L799.25,408.82 L799.50,408.43 L799.75,408.03 L800.00,407.63 L800.25,407.23 L800.50,406.82 L800.75,406.42 L801.00,406.01 L801.25,405.60 L801.50,405.19 L801.75,404.78 L802.00,404.36 L802.25,403.95 L802.50,403.53 L802.75,403.11 L803.00,402.68 L803.25,402.26 L803.50,401.83 L803.75,401.40 L804.00,400.97 L804.25,400.53 L804.50,400.10 L804.75,399.66 L805.00,399.22 L805.25,398.78 L805.50,398.33 L805.75,397.89 L806.00,397.44 L806.25,396.99 L806.50,396.53 L806.75,396.08 L807.00,395.62 L807.25,395.16 L807.50,394.70 L807.75,394.23 L808.00,393.77 L808.25,393.30 L808.50,392.82 L808.75,392.35 L809.00,391.87 L809.25,391.39 L809.50,390.91 L809.75,390.43 L810.00,389.94 L810.25,389.45 L810.50,388.96 L810.75,388.47 L811.00,387.97 L811.25,387.47 L811.50,386.97 L811.75,386.47 L812.00,385.96 L812.25,385.46 L812.50,384.94 L812.75,384.43 L813.00,383.91 L813.25,383.39 L813.50,382.87 L813.75,382.35 L814.00,381.82 L814.25,381.29 L814.50,380.76 L814.75,380.22 L815.00,379.68 L815.25,379.14 L815.50,378.60 L815.75,378.05 L816.00,377.50 L816.25,376.95 L816.50,376.39 L816.75,375.84 L817.00,375.28 L817.25,374.71 L817.50,374.14 L817.75,373.58 L818.00,373.00 L818.25,372.43 L818.50,371.85 L818.75,371.27 L819.00,370.68 L819.25,370.09 L819.50,369.50 L819.75,368.91 L820.00,368.31 L820.25,367.71 L820.50,367.11 L820.75,366.50 L821.00,365.89 L821.25,365.28 L821.50,364.66 L821.75,364.04 L822.00,363.42 L822.25,362.79 L822.50,362.16 L822.75,361.53 L823.00,360.90 L823.25,360.26 L823.50,359.61 L823.75,358.97 L824.00,358.32 L824.25,357.66 L824.50,357.01 L824.75,356.35 L825.00,355.68 L825.25,355.02 L825.50,354.35 L825.75,353.67 L826.00,353.00 L826.25,352.31 L826.50,351.63 L826.75,350.94 L827.00,350.25 L827.25,349.55 L827.50,348.85 L827.75,348.15 L828.00,347.44 L828.25,346.73 L828.50,346.02 L828.75,345.30 L829.00,344.58 L829.25,343.85 L829.50,343.12 L829.75,342.39 L830.00,341.65 L830.25,340.91 L830.50,340.16 L830.75,339.41 L831.00,338.66 L831.25,337.90 L831.50,337.14 L831.75,336.37 L832.00,335.60 L832.25,334.83 L832.50,334.05 L832.75,333.27 L833.00,332.48 L833.25,331.69 L833.50,330.90 L833.75,330.10 L834.00,329.29 L834.25,328.49 L834.50,327.67 L834.75,326.86 L835.00,326.04 L835.25,325.21 L835.50,324.39 L835.75,323.55 L836.00,322.71 L836.25,321.87 L836.50,321.03 L836.75,320.17 L837.00,319.32 L837.25,318.46 L837.50,317.59 L837.75,316.73 L838.00,315.85 L838.25,314.97 L838.50,314.09 L838.75,313.21 L839.00,312.31 L839.25,311.42 L839.50,310.52 L839.75,309.61 L840.00,308.70 L840.25,307.79 L840.50,306.87 L840.75,305.94 L841.00,305.01 L841.25,304.08 L841.50,303.14 L841.75,302.20 L842.00,301.25 L842.25,300.30 L842.50,299.34 L842.75,298.38 L843.00,297.41 L843.25,296.44 L843.50,295.46 L843.75,294.48 L844.00,293.50 L844.25,292.51 L844.50,291.51 L844.75,290.51 L845.00,289.50 L845.25,288.49 L845.50,287.48 L845.75,286.46 L846.00,285.43 L846.25,284.40 L846.50,283.37 L846.75,282.33 L847.00,281.28 L847.25,280.24 L847.50,279.18 L847.75,278.12 L848.00,277.06 L848.25,275.99 L848.50,274.92 L848.75,273.84 L849.00,272.76 L849.25,271.67 L849.50,270.57 L849.75,269.48 L850.00,268.37 L850.25,267.27 L850.50,266.16 L850.75,265.04 L851.00,263.92 L851.25,262.79 L851.50,261.66 L851.75,260.53 L852.00,259.39 L852.25,258.24 L852.50,257.09 L852.75,255.94 L853.00,254.78 L853.25,253.62 L853.50,252.45 L853.75,251.28 L854.00,250.11 L854.25,248.92 L854.50,247.74 L854.75,246.55 L855.00,245.36 L855.25,244.16 L855.50,242.96 L855.75,241.75 L856.00,240.55 L856.25,239.33 L856.50,238.11 L856.75,236.89 L857.00,235.67 L857.25,234.44 L857.50,233.21 L857.75,231.97 L858.00,230.73 L858.25,229.49 L858.50,228.24 L858.75,226.99 L859.00,225.74 L859.25,224.48 L859.50,223.22 L859.75,221.96 L860.00,220.69 L860.25,219.42 L860.50,218.15 L860.75,216.88 L861.00,215.60 L861.25,214.32 L861.50,213.04 L861.75,211.75 L862.00,210.47 L862.25,209.18 L862.50,207.89 L862.75,206.60 L863.00,205.30 L863.25,204.01 L863.50,202.71 L863.75,201.41 L864.00,200.11 L864.25,198.81 L864.50,197.51 L864.75,196.21 L865.00,194.90 L865.25,193.60 L865.50,192.29 L865.75,190.99 L866.00,189.68 L866.25,188.38 L866.50,187.07 L866.75,185.77 L867.00,184.47 L867.25,183.16 L867.50,181.86 L867.75,180.56 L868.00,179.26 L868.25,177.96 L868.50,176.66 L868.75,175.37 L869.00,174.07 L869.25,172.78 L869.50,171.49 L869.75,170.21 L870.00,168.92 L870.25,167.64 L870.50,166.36 L870.75,165.09 L871.00,163.82 L871.25,162.55 L871.50,161.29 L871.75,160.03 L872.00,158.77 L872.25,157.52 L872.50,156.28 L872.75,155.04 L873.00,153.80 L873.25,152.57 L873.50,151.35 L873.75,150.13 L874.00,148.92 L874.25,147.71 L874.50,146.51 L874.75,145.32 L875.00,144.14 L875.25,142.96 L875.50,141.79 L875.75,140.63 L876.00,139.48 L876.25,138.33 L876.50,137.20 L876.75,136.07 L877.00,134.95 L877.25,133.84 L877.50,132.75 L877.75,131.66 L878.00,130.58 L878.25,129.51 L878.50,128.45 L878.75,127.40 L879.00,126.37 L879.25,125.34 L879.50,124.33 L879.75,123.33 L880.00,122.34 L880.25,121.37 L880.50,120.40 L880.75,119.45 L881.00,118.51 L881.25,117.59 L881.50,116.68 L881.75,115.78 L882.00,114.90 L882.25,114.03 L882.50,113.17 L882.75,112.33 L883.00,111.51 L883.25,110.70 L883.50,109.90 L883.75,109.12 L884.00,108.35 L884.25,107.61 L884.50,106.87 L884.75,106.15 L885.00,105.45 L885.25,104.77 L885.50,104.10 L885.75,103.45 L886.00,102.81 L886.25,102.20 L886.50,101.60 L886.75,101.01 L887.00,100.45 L887.25,99.90 L887.50,99.36 L887.75,98.85 L888.00,98.35 L888.25,97.88 L888.50,97.41 L888.75,96.97 L889.00,96.54 L889.25,96.14 L889.50,95.75 L889.75,95.37 L890.00,95.02 L890.25,94.68 L890.50,94.37 L890.75,94.06 L891.00,93.78 L891.25,93.52 L891.50,93.27 L891.75,93.04 L892.00,92.82 L892.25,92.63 L892.50,92.45 L892.75,92.29 L893.00,92.14 L893.25,92.01 L893.50,91.90 L893.75,91.80 L894.00,91.72 L894.25,91.66 L894.50,91.61 L894.75,91.57 L895.00,91.55 L895.25,91.54 L895.50,91.54 L895.75,91.54 L896.00,91.54 L896.25,91.54 L896.50,91.54 L896.75,91.54 L897.00,91.54 L897.25,91.54 L897.50,91.54 L897.75,91.54 L898.00,91.54 L898.25,91.54 L898.50,91.54 L898.75,91.54 L899.00,91.54 L899.25,91.54 L899.50,91.54 L899.75,91.54 L900.00,91.54 L900.25,91.54 L900.50,91.54 L900.75,91.54 L901.00,91.54 L901.25,91.54 L901.50,91.54 L901.75,91.54 L902.00,91.54 L902.25,91.54 L902.50,91.54 L902.75,91.54 L903.00,91.54 L903.25,91.54 L903.50,91.54 L903.75,91.54 L904.00,91.54 L904.25,91.54 L904.50,91.54 L904.75,91.54 L905.00,91.54 L905.25,91.54 L905.50,91.54 L905.75,91.54 L906.00,91.54 L906.25,91.54 L906.50,91.54 L906.75,91.54 L907.00,91.54 L907.25,91.54 L907.50,91.54 L907.75,91.54 L908.00,91.54 L908.25,91.54 L908.50,91.54 L908.75,91.54 L909.00,91.54 L909.25,91.54 L909.50,91.54 L909.75,91.54 L910.00,91.54 L910.25,91.54 L910.50,91.54 L910.75,91.54 L911.00,91.54 L911.25,91.54 L911.50,91.54 L911.75,91.54 L912.00,91.54 L912.25,91.54 L912.50,91.54 L912.75,91.54 L913.00,91.54 L913.25,91.54 L913.50,91.54 L913.75,91.54 L914.00,91.54 L914.25,91.54 L914.50,91.54 L914.75,91.54 L915.00,91.54 L915.25,91.54 L915.50,91.54 L915.75,91.54 L916.00,91.54 L916.25,91.54 L916.50,91.54 L916.75,91.54 L917.00,91.54 L917.25,91.54 L917.50,91.54 L917.75,91.54 L918.00,91.54 L918.25,91.54 L918.50,91.54 L918.75,91.54 L919.00,91.54 L919.25,91.54 L919.50,91.54 L919.75,91.54 L920.00,91.54 L920.25,91.54 L920.50,91.54 L920.75,91.54 L921.00,91.54 L921.25,91.54 L921.50,91.54 L921.75,91.54 L922.00,91.54 L922.25,91.54 L922.50,91.54 L922.75,91.54 L923.00,91.54 L923.25,91.54 L923.50,91.54 L923.75,91.54 L924.00,91.54 L924.25,91.54 L924.50,91.54 L924.75,91.54 L925.00,91.54 L925.25,91.54 L925.50,91.54 L925.75,91.54 L926.00,91.54 L926.25,91.54 L926.50,91.54 L926.75,91.54 L927.00,91.54 L927.25,91.54 L927.50,91.54 L927.75,91.54 L928.00,91.54 L928.25,91.54 L928.50,91.54 L928.75,91.54 L929.00,91.54 L929.25,91.54 L929.50,91.54 L929.75,91.54 L930.00,91.54 L930.25,91.54 L930.50,91.54 L930.75,91.54 L931.00,91.54 L931.25,91.54 L931.50,91.54 L931.75,91.54 L932.00,91.54 L932.25,91.54 L932.50,91.54 L932.75,91.54 L933.00,91.54 L933.25,91.54 L933.50,91.54 L933.75,91.54 L934.00,91.54 L934.25,91.54 L934.50,91.54 L934.75,91.54 L935.00,91.54 L935.25,91.54 L935.50,91.54 L935.75,91.54 L936.00,91.54 L936.25,91.54 L936.50,91.54 L936.75,91.54 L937.00,91.54 L937.25,91.54 L937.50,91.54 L937.75,91.54 L938.00,91.54" fill="none" stroke="#ff0000" stroke-width="2.5" stroke-linejoin="round"/>
<g fill="#ff0000" clip-path="url(#clip)"><circle cx="121.60" cy="534.50" r="7.4"/>
<circle cx="162.43" cy="533.90" r="7.4"/>
<circle cx="203.26" cy="532.70" r="7.4"/>
<circle cx="244.09" cy="531.80" r="7.4"/>
<circle cx="284.92" cy="530.90" r="7.4"/>
<circle cx="325.75" cy="529.60" r="7.4"/>
<circle cx="366.58" cy="528.20" r="7.4"/>
<circle cx="407.41" cy="526.00" r="7.4"/>
<circle cx="448.24" cy="524.00" r="7.4"/>
<circle cx="489.07" cy="521.40" r="7.4"/>
<circle cx="529.90" cy="518.10" r="7.4"/>
<circle cx="570.73" cy="513.80" r="7.4"/>
<circle cx="611.56" cy="508.30" r="7.4"/>
<circle cx="652.39" cy="500.40" r="7.4"/>
<circle cx="693.22" cy="488.80" r="7.4"/>
<circle cx="734.05" cy="470.90" r="7.4"/>
<circle cx="774.88" cy="440.50" r="7.4"/>
<circle cx="815.71" cy="378.30" r="7.4"/>
<circle cx="856.54" cy="238.10" r="7.4"/>
<circle cx="897.37" cy="91.40" r="7.4"/>
<circle cx="938.20" cy="91.40" r="7.4"/></g>
<path d="M121.60,526.91 L123.60,526.85 L125.60,526.79 L127.60,526.72 L129.60,526.66 L131.60,526.60 L133.60,526.54 L135.60,526.48 L137.60,526.41 L139.60,526.35 L141.60,526.29 L143.60,526.22 L145.60,526.16 L147.60,526.09 L149.60,526.03 L151.60,525.96 L153.60,525.90 L155.60,525.83 L157.60,525.77 L159.60,525.70 L161.60,525.63 L163.60,525.56 L165.60,525.49 L167.60,525.42 L169.60,525.36 L171.60,525.29 L173.60,525.22 L175.60,525.14 L177.60,525.07 L179.60,525.00 L181.60,524.93 L183.60,524.86 L185.60,524.78 L187.60,524.71 L189.60,524.64 L191.60,524.56 L193.60,524.49 L195.60,524.41 L197.60,524.34 L199.60,524.26 L201.60,524.18 L203.60,524.10 L205.60,524.03 L207.60,523.95 L209.60,523.87 L211.60,523.79 L213.60,523.71 L215.60,523.63 L217.60,523.55 L219.60,523.46 L221.60,523.38 L223.60,523.30 L225.60,523.22 L227.60,523.13 L229.60,523.05 L231.60,522.96 L233.60,522.87 L235.60,522.79 L237.60,522.70 L239.60,522.61 L241.60,522.52 L243.60,522.44 L245.60,522.35 L247.60,522.26 L249.60,522.16 L251.60,522.07 L253.60,521.98 L255.60,521.89 L257.60,521.79 L259.60,521.70 L261.60,521.60 L263.60,521.51 L265.60,521.41 L267.60,521.31 L269.60,521.22 L271.60,521.12 L273.60,521.02 L275.60,520.92 L277.60,520.82 L279.60,520.72 L281.60,520.61 L283.60,520.51 L285.60,520.41 L287.60,520.30 L289.60,520.20 L291.60,520.09 L293.60,519.98 L295.60,519.87 L297.60,519.76 L299.60,519.65 L301.60,519.54 L303.60,519.43 L305.60,519.32 L307.60,519.21 L309.60,519.09 L311.60,518.98 L313.60,518.86 L315.60,518.74 L317.60,518.63 L319.60,518.51 L321.60,518.39 L323.60,518.27 L325.60,518.14 L327.60,518.02 L329.60,517.90 L331.60,517.77 L333.60,517.65 L335.60,517.52 L337.60,517.39 L339.60,517.26 L341.60,517.13 L343.60,517.00 L345.60,516.87 L347.60,516.74 L349.60,516.60 L351.60,516.46 L353.60,516.33 L355.60,516.19 L357.60,516.05 L359.60,515.91 L361.60,515.77 L363.60,515.62 L365.60,515.48 L367.60,515.33 L369.60,515.19 L371.60,515.04 L373.60,514.89 L375.60,514.74 L377.60,514.59 L379.60,514.43 L381.60,514.28 L383.60,514.12 L385.60,513.96 L387.60,513.80 L389.60,513.64 L391.60,513.48 L393.60,513.32 L395.60,513.15 L397.60,512.98 L399.60,512.82 L401.60,512.65 L403.60,512.47 L405.60,512.30 L407.60,512.12 L409.60,511.95 L411.60,511.77 L413.60,511.59 L415.60,511.41 L417.60,511.22 L419.60,511.04 L421.60,510.85 L423.60,510.66 L425.60,510.47 L427.60,510.28 L429.60,510.08 L431.60,509.89 L433.60,509.69 L435.60,509.49 L437.60,509.28 L439.60,509.08 L441.60,508.87 L443.60,508.66 L445.60,508.45 L447.60,508.23 L449.60,508.02 L451.60,507.80 L453.60,507.58 L455.60,507.36 L457.60,507.13 L459.60,506.90 L461.60,506.67 L463.60,506.44 L465.60,506.21 L467.60,505.97 L469.60,505.73 L471.60,505.48 L473.60,505.24 L475.60,504.99 L477.60,504.74 L479.60,504.48 L481.60,504.23 L483.60,503.97 L485.60,503.70 L487.60,503.44 L489.60,503.17 L491.60,502.90 L493.60,502.62 L495.60,502.34 L497.60,502.06 L499.60,501.78 L501.60,501.49 L503.60,501.19 L505.60,500.90 L507.60,500.60 L509.60,500.30 L511.60,499.99 L513.60,499.68 L515.60,499.37 L517.60,499.05 L519.60,498.73 L521.60,498.40 L523.60,498.07 L525.60,497.74 L527.60,497.40 L529.60,497.05 L531.60,496.71 L533.60,496.36 L535.60,496.00 L537.60,495.64 L539.60,495.27 L541.60,494.90 L543.60,494.53 L545.60,494.15 L547.60,493.76 L549.60,493.37 L551.60,492.97 L553.60,492.57 L555.60,492.16 L557.60,491.75 L559.60,491.33 L561.60,490.91 L563.60,490.48 L565.60,490.04 L567.60,489.60 L569.60,489.15 L571.60,488.69 L573.60,488.23 L575.60,487.76 L577.60,487.29 L579.60,486.80 L581.60,486.31 L583.60,485.82 L585.60,485.31 L587.60,484.80 L589.60,484.28 L591.60,483.75 L593.60,483.22 L595.60,482.67 L597.60,482.12 L599.60,481.56 L601.60,480.98 L603.60,480.40 L605.60,479.81 L607.60,479.22 L609.60,478.61 L611.60,477.99 L613.60,477.36 L615.60,476.72 L617.60,476.07 L619.60,475.41 L621.60,474.74 L623.60,474.05 L625.60,473.36 L627.60,472.65 L629.60,471.93 L631.60,471.20 L633.60,470.45 L635.60,469.70 L637.60,468.92 L639.60,468.14 L641.60,467.34 L643.60,466.52 L645.60,465.69 L647.60,464.85 L649.60,463.99 L651.60,463.11 L653.60,462.21 L655.60,461.30 L657.60,460.37 L659.60,459.43 L661.60,458.46 L663.60,457.48 L665.60,456.47 L667.60,455.45 L669.60,454.40 L671.60,453.34 L673.60,452.25 L675.60,451.14 L677.60,450.00 L679.60,448.84 L681.60,447.66 L683.60,446.45 L685.60,445.22 L687.60,443.96 L689.60,442.67 L691.60,441.36 L693.60,440.01 L695.60,438.64 L697.60,437.23 L699.60,435.79 L700.00,435.50 L700.25,435.32 L700.50,435.13 L700.75,434.95 L701.00,434.76 L701.25,434.58 L701.50,434.39 L701.75,434.21 L702.00,434.02 L702.25,433.83 L702.50,433.65 L702.75,433.46 L703.00,433.27 L703.25,433.08 L703.50,432.89 L703.75,432.70 L704.00,432.51 L704.25,432.32 L704.50,432.12 L704.75,431.93 L705.00,431.74 L705.25,431.55 L705.50,431.35 L705.75,431.16 L706.00,430.96 L706.25,430.76 L706.50,430.57 L706.75,430.37 L707.00,430.17 L707.25,429.97 L707.50,429.78 L707.75,429.58 L708.00,429.38 L708.25,429.18 L708.50,428.97 L708.75,428.77 L709.00,428.57 L709.25,428.37 L709.50,428.16 L709.75,427.96 L710.00,427.75 L710.25,427.55 L710.50,427.34 L710.75,427.14 L711.00,426.93 L711.25,426.72 L711.50,426.51 L711.75,426.30 L712.00,426.09 L712.25,425.88 L712.50,425.67 L712.75,425.46 L713.00,425.25 L713.25,425.03 L713.50,424.82 L713.75,424.61 L714.00,424.39 L714.25,424.18 L714.50,423.96 L714.75,423.74 L715.00,423.53 L715.25,423.31 L715.50,423.09 L715.75,422.87 L716.00,422.65 L716.25,422.43 L716.50,422.21 L716.75,421.99 L717.00,421.76 L717.25,421.54 L717.50,421.32 L717.75,421.09 L718.00,420.86 L718.25,420.64 L718.50,420.41 L718.75,420.18 L719.00,419.96 L719.25,419.73 L719.50,419.50 L719.75,419.27 L720.00,419.04 L720.25,418.80 L720.50,418.57 L720.75,418.34 L721.00,418.10 L721.25,417.87 L721.50,417.63 L721.75,417.40 L722.00,417.16 L722.25,416.92 L722.50,416.68 L722.75,416.45 L723.00,416.21 L723.25,415.97 L723.50,415.72 L723.75,415.48 L724.00,415.24 L724.25,415.00 L724.50,414.75 L724.75,414.51 L725.00,414.26 L725.25,414.01 L725.50,413.77 L725.75,413.52 L726.00,413.27 L726.25,413.02 L726.50,412.77 L726.75,412.52 L727.00,412.26 L727.25,412.01 L727.50,411.76 L727.75,411.50 L728.00,411.25 L728.25,410.99 L728.50,410.73 L728.75,410.48 L729.00,410.22 L729.25,409.96 L729.50,409.70 L729.75,409.44 L730.00,409.17 L730.25,408.91 L730.50,408.65 L730.75,408.38 L731.00,408.12 L731.25,407.85 L731.50,407.59 L731.75,407.32 L732.00,407.05 L732.25,406.78 L732.50,406.51 L732.75,406.24 L733.00,405.96 L733.25,405.69 L733.50,405.42 L733.75,405.14 L734.00,404.87 L734.25,404.59 L734.50,404.31 L734.75,404.03 L735.00,403.75 L735.25,403.47 L735.50,403.19 L735.75,402.91 L736.00,402.63 L736.25,402.34 L736.50,402.06 L736.75,401.77 L737.00,401.48 L737.25,401.20 L737.50,400.91 L737.75,400.62 L738.00,400.33 L738.25,400.04 L738.50,399.74 L738.75,399.45 L739.00,399.16 L739.25,398.86 L739.50,398.56 L739.75,398.27 L740.00,397.97 L740.25,397.67 L740.50,397.37 L740.75,397.07 L741.00,396.76 L741.25,396.46 L741.50,396.16 L741.75,395.85 L742.00,395.54 L742.25,395.24 L742.50,394.93 L742.75,394.62 L743.00,394.31 L743.25,394.00 L743.50,393.68 L743.75,393.37 L744.00,393.05 L744.25,392.74 L744.50,392.42 L744.75,392.10 L745.00,391.78 L745.25,391.46 L745.50,391.14 L745.75,390.82 L746.00,390.50 L746.25,390.17 L746.50,389.85 L746.75,389.52 L747.00,389.19 L747.25,388.86 L747.50,388.53 L747.75,388.20 L748.00,387.87 L748.25,387.54 L748.50,387.20 L748.75,386.87 L749.00,386.53 L749.25,386.19 L749.50,385.85 L749.75,385.51 L750.00,385.17 L750.25,384.83 L750.50,384.48 L750.75,384.14 L751.00,383.79 L751.25,383.44 L751.50,383.09 L751.75,382.74 L752.00,382.39 L752.25,382.04 L752.50,381.69 L752.75,381.33 L753.00,380.98 L753.25,380.62 L753.50,380.26 L753.75,379.90 L754.00,379.54 L754.25,379.18 L754.50,378.81 L754.75,378.45 L755.00,378.08 L755.25,377.72 L755.50,377.35 L755.75,376.98 L756.00,376.61 L756.25,376.23 L756.50,375.86 L756.75,375.49 L757.00,375.11 L757.25,374.73 L757.50,374.35 L757.75,373.97 L758.00,373.59 L758.25,373.21 L758.50,372.82 L758.75,372.44 L759.00,372.05 L759.25,371.66 L759.50,371.27 L759.75,370.88 L760.00,370.49 L760.25,370.09 L760.50,369.70 L760.75,369.30 L761.00,368.90 L761.25,368.50 L761.50,368.10 L761.75,367.70 L762.00,367.30 L762.25,366.89 L762.50,366.48 L762.75,366.08 L763.00,365.67 L763.25,365.26 L763.50,364.84 L763.75,364.43 L764.00,364.01 L764.25,363.60 L764.50,363.18 L764.75,362.76 L765.00,362.34 L765.25,361.91 L765.50,361.49 L765.75,361.06 L766.00,360.64 L766.25,360.21 L766.50,359.78 L766.75,359.34 L767.00,358.91 L767.25,358.48 L767.50,358.04 L767.75,357.60 L768.00,357.16 L768.25,356.72 L768.50,356.28 L768.75,355.83 L769.00,355.39 L769.25,354.94 L769.50,354.49 L769.75,354.04 L770.00,353.58 L770.25,353.13 L770.50,352.67 L770.75,352.22 L771.00,351.76 L771.25,351.30 L771.50,350.83 L771.75,350.37 L772.00,349.90 L772.25,349.44 L772.50,348.97 L772.75,348.50 L773.00,348.02 L773.25,347.55 L773.50,347.07 L773.75,346.60 L774.00,346.12 L774.25,345.64 L774.50,345.15 L774.75,344.67 L775.00,344.18 L775.25,343.69 L775.50,343.20 L775.75,342.71 L776.00,342.22 L776.25,341.72 L776.50,341.23 L776.75,340.73 L777.00,340.23 L777.25,339.73 L777.50,339.22 L777.75,338.72 L778.00,338.21 L778.25,337.70 L778.50,337.19 L778.75,336.67 L779.00,336.16 L779.25,335.64 L779.50,335.12 L779.75,334.60 L780.00,334.08 L780.25,333.56 L780.50,333.03 L780.75,332.50 L781.00,331.97 L781.25,331.44 L781.50,330.91 L781.75,330.37 L782.00,329.83 L782.25,329.29 L782.50,328.75 L782.75,328.21 L783.00,327.66 L783.25,327.12 L783.50,326.57 L783.75,326.01 L784.00,325.46 L784.25,324.91 L784.50,324.35 L784.75,323.79 L785.00,323.23 L785.25,322.67 L785.50,322.10 L785.75,321.53 L786.00,320.96 L786.25,320.39 L786.50,319.82 L786.75,319.25 L787.00,318.67 L787.25,318.09 L787.50,317.51 L787.75,316.92 L788.00,316.34 L788.25,315.75 L788.50,315.16 L788.75,314.57 L789.00,313.98 L789.25,313.38 L789.50,312.78 L789.75,312.18 L790.00,311.58 L790.25,310.98 L790.50,310.37 L790.75,309.76 L791.00,309.15 L791.25,308.54 L791.50,307.93 L791.75,307.31 L792.00,306.69 L792.25,306.07 L792.50,305.45 L792.75,304.82 L793.00,304.19 L793.25,303.56 L793.50,302.93 L793.75,302.30 L794.00,301.66 L794.25,301.02 L794.50,300.38 L794.75,299.74 L795.00,299.10 L795.25,298.45 L795.50,297.80 L795.75,297.15 L796.00,296.50 L796.25,295.84 L796.50,295.18 L796.75,294.52 L797.00,293.86 L797.25,293.20 L797.50,292.53 L797.75,291.86 L798.00,291.19 L798.25,290.52 L798.50,289.84 L798.75,289.17 L799.00,288.49 L799.25,287.80 L799.50,287.12 L799.75,286.43 L800.00,285.75 L800.25,285.05 L800.50,284.36 L800.75,283.67 L801.00,282.97 L801.25,282.27 L801.50,281.57 L801.75,280.86 L802.00,280.16 L802.25,279.45 L802.50,278.74 L802.75,278.03 L803.00,277.31 L803.25,276.60 L803.50,275.88 L803.75,275.16 L804.00,274.43 L804.25,273.71 L804.50,272.98 L804.75,272.25 L805.00,271.52 L805.25,270.78 L805.50,270.05 L805.75,269.31 L806.00,268.57 L806.25,267.82 L806.50,267.08 L806.75,266.33 L807.00,265.58 L807.25,264.83 L807.50,264.08 L807.75,263.32 L808.00,262.56 L808.25,261.80 L808.50,261.04 L808.75,260.28 L809.00,259.51 L809.25,258.74 L809.50,257.97 L809.75,257.20 L810.00,256.42 L810.25,255.65 L810.50,254.87 L810.75,254.09 L811.00,253.31 L811.25,252.52 L811.50,251.73 L811.75,250.95 L812.00,250.15 L812.25,249.36 L812.50,248.57 L812.75,247.77 L813.00,246.97 L813.25,246.17 L813.50,245.37 L813.75,244.57 L814.00,243.76 L814.25,242.95 L814.50,242.14 L814.75,241.33 L815.00,240.52 L815.25,239.71 L815.50,238.89 L815.75,238.07 L816.00,237.25 L816.25,236.43 L816.50,235.61 L816.75,234.78 L817.00,233.95 L817.25,233.13 L817.50,232.30 L817.75,231.46 L818.00,230.63 L818.25,229.80 L818.50,228.96 L818.75,228.12 L819.00,227.28 L819.25,226.44 L819.50,225.60 L819.75,224.76 L820.00,223.91 L820.25,223.07 L820.50,222.22 L820.75,221.37 L821.00,220.52 L821.25,219.67 L821.50,218.82 L821.75,217.96 L822.00,217.11 L822.25,216.25 L822.50,215.39 L822.75,214.54 L823.00,213.68 L823.25,212.82 L823.50,211.95 L823.75,211.09 L824.00,210.23 L824.25,209.37 L824.50,208.50 L824.75,207.64 L825.00,206.77 L825.25,205.90 L825.50,205.03 L825.75,204.17 L826.00,203.30 L826.25,202.43 L826.50,201.56 L826.75,200.69 L827.00,199.82 L827.25,198.94 L827.50,198.07 L827.75,197.20 L828.00,196.33 L828.25,195.45 L828.50,194.58 L828.75,193.71 L829.00,192.84 L829.25,191.96 L829.50,191.09 L829.75,190.22 L830.00,189.34 L830.25,188.47 L830.50,187.60 L830.75,186.72 L831.00,185.85 L831.25,184.98 L831.50,184.11 L831.75,183.24 L832.00,182.37 L832.25,181.50 L832.50,180.63 L832.75,179.76 L833.00,178.89 L833.25,178.02 L833.50,177.16 L833.75,176.29 L834.00,175.43 L834.25,174.56 L834.50,173.70 L834.75,172.84 L835.00,171.98 L835.25,171.12 L835.50,170.26 L835.75,169.41 L836.00,168.55 L836.25,167.70 L836.50,166.84 L836.75,165.99 L837.00,165.15 L837.25,164.30 L837.50,163.45 L837.75,162.61 L838.00,161.77 L838.25,160.93 L838.50,160.09 L838.75,159.26 L839.00,158.42 L839.25,157.59 L839.50,156.76 L839.75,155.94 L840.00,155.11 L840.25,154.29 L840.50,153.47 L840.75,152.66 L841.00,151.84 L841.25,151.03 L841.50,150.23 L841.75,149.42 L842.00,148.62 L842.25,147.82 L842.50,147.03 L842.75,146.23 L843.00,145.45 L843.25,144.66 L843.50,143.88 L843.75,143.10 L844.00,142.32 L844.25,141.55 L844.50,140.79 L844.75,140.02 L845.00,139.26 L845.25,138.51 L845.50,137.75 L845.75,137.01 L846.00,136.26 L846.25,135.52 L846.50,134.79 L846.75,134.06 L847.00,133.33 L847.25,132.61 L847.50,131.89 L847.75,131.18 L848.00,130.47 L848.25,129.77 L848.50,129.07 L848.75,128.38 L849.00,127.69 L849.25,127.00 L849.50,126.33 L849.75,125.65 L850.00,124.99 L850.25,124.32 L850.50,123.67 L850.75,123.01 L851.00,122.37 L851.25,121.73 L851.50,121.09 L851.75,120.46 L852.00,119.84 L852.25,119.22 L852.50,118.61 L852.75,118.01 L853.00,117.41 L853.25,116.81 L853.50,116.23 L853.75,115.64 L854.00,115.07 L854.25,114.50 L854.50,113.94 L854.75,113.38 L855.00,112.83 L855.25,112.29 L855.50,111.75 L855.75,111.22 L856.00,110.70 L856.25,110.18 L856.50,109.67 L856.75,109.17 L857.00,108.67 L857.25,108.19 L857.50,107.70 L857.75,107.23 L858.00,106.76 L858.25,106.30 L858.50,105.84 L858.75,105.39 L859.00,104.95 L859.25,104.52 L859.50,104.09 L859.75,103.68 L860.00,103.26 L860.25,102.86 L860.50,102.46 L860.75,102.07 L861.00,101.69 L861.25,101.31 L861.50,100.95 L861.75,100.59 L862.00,100.23 L862.25,99.89 L862.50,99.55 L862.75,99.22 L863.00,98.89 L863.25,98.58 L863.50,98.27 L863.75,97.96 L864.00,97.67 L864.25,97.38 L864.50,97.10 L864.75,96.83 L865.00,96.57 L865.25,96.31 L865.50,96.06 L865.75,95.81 L866.00,95.58 L866.25,95.35 L866.50,95.13 L866.75,94.91 L867.00,94.71 L867.25,94.51 L867.50,94.31 L867.75,94.13 L868.00,93.95 L868.25,93.78 L868.50,93.61 L868.75,93.46 L869.00,93.31 L869.25,93.16 L869.50,93.02 L869.75,92.89 L870.00,92.77 L870.25,92.65 L870.50,92.54 L870.75,92.44 L871.00,92.34 L871.25,92.25 L871.50,92.16 L871.75,92.08 L872.00,92.01 L872.25,91.94 L872.50,91.88 L872.75,91.82 L873.00,91.77 L873.25,91.73 L873.50,91.69 L873.75,91.65 L874.00,91.62 L874.25,91.60 L874.50,91.58 L874.75,91.56 L875.00,91.55 L875.25,91.54 L875.50,91.54 L875.75,91.54 L876.00,91.54 L876.25,91.54 L876.50,91.54 L876.75,91.54 L877.00,91.54 L877.25,91.54 L877.50,91.54 L877.75,91.54 L878.00,91.54 L878.25,91.54 L878.50,91.54 L878.75,91.54 L879.00,91.54 L879.25,91.54 L879.50,91.54 L879.75,91.54 L880.00,91.54 L880.25,91.54 L880.50,91.54 L880.75,91.54 L881.00,91.54 L881.25,91.54 L881.50,91.54 L881.75,91.54 L882.00,91.54 L882.25,91.54 L882.50,91.54 L882.75,91.54 L883.00,91.54 L883.25,91.54 L883.50,91.54 L883.75,91.54 L884.00,91.54 L884.25,91.54 L884.50,91.54 L884.75,91.54 L885.00,91.54 L885.25,91.54 L885.50,91.54 L885.75,91.54 L886.00,91.54 L886.25,91.54 L886.50,91.54 L886.75,91.54 L887.00,91.54 L887.25,91.54 L887.50,91.54 L887.75,91.54 L888.00,91.54 L888.25,91.54 L888.50,91.54 L888.75,91.54 L889.00,91.54 L889.25,91.54 L889.50,91.54 L889.75,91.54 L890.00,91.54 L890.25,91.54 L890.50,91.54 L890.75,91.54 L891.00,91.54 L891.25,91.54 L891.50,91.54 L891.75,91.54 L892.00,91.54 L892.25,91.54 L892.50,91.54 L892.75,91.54 L893.00,91.54 L893.25,91.54 L893.50,91.54 L893.75,91.54 L894.00,91.54 L894.25,91.54 L894.50,91.54 L894.75,91.54 L895.00,91.54 L895.25,91.54 L895.50,91.54 L895.75,91.54 L896.00,91.54 L896.25,91.54 L896.50,91.54 L896.75,91.54 L897.00,91.54 L897.25,91.54 L897.50,91.54 L897.75,91.54 L898.00,91.54 L898.25,91.54 L898.50,91.54 L898.75,91.54 L899.00,91.54 L899.25,91.54 L899.50,91.54 L899.75,91.54 L900.00,91.54 L900.25,91.54 L900.50,91.54 L900.75,91.54 L901.00,91.54 L901.25,91.54 L901.50,91.54 L901.75,91.54 L902.00,91.54 L902.25,91.54 L902.50,91.54 L902.75,91.54 L903.00,91.54 L903.25,91.54 L903.50,91.54 L903.75,91.54 L904.00,91.54 L904.25,91.54 L904.50,91.54 L904.75,91.54 L905.00,91.54 L905.25,91.54 L905.50,91.54 L905.75,91.54 L906.00,91.54 L906.25,91.54 L906.50,91.54 L906.75,91.54 L907.00,91.54 L907.25,91.54 L907.50,91.54 L907.75,91.54 L908.00,91.54 L908.25,91.54 L908.50,91.54 L908.75,91.54 L909.00,91.54 L909.25,91.54 L909.50,91.54 L909.75,91.54 L910.00,91.54 L910.25,91.54 L910.50,91.54 L910.75,91.54 L911.00,91.54 L911.25,91.54 L911.50,91.54 L911.75,91.54 L912.00,91.54 L912.25,91.54 L912.50,91.54 L912.75,91.54 L913.00,91.54 L913.25,91.54 L913.50,91.54 L913.75,91.54 L914.00,91.54 L914.25,91.54 L914.50,91.54 L914.75,91.54 L915.00,91.54 L915.25,91.54 L915.50,91.54 L915.75,91.54 L916.00,91.54 L916.25,91.54 L916.50,91.54 L916.75,91.54 L917.00,91.54 L917.25,91.54 L917.50,91.54 L917.75,91.54 L918.00,91.54 L918.25,91.54 L918.50,91.54 L918.75,91.54 L919.00,91.54 L919.25,91.54 L919.50,91.54 L919.75,91.54 L920.00,91.54 L920.25,91.54 L920.50,91.54 L920.75,91.54 L921.00,91.54 L921.25,91.54 L921.50,91.54 L921.75,91.54 L922.00,91.54 L922.25,91.54 L922.50,91.54 L922.75,91.54 L923.00,91.54 L923.25,91.54 L923.50,91.54 L923.75,91.54 L924.00,91.54 L924.25,91.54 L924.50,91.54 L924.75,91.54 L925.00,91.54 L925.25,91.54 L925.50,91.54 L925.75,91.54 L926.00,91.54 L926.25,91.54 L926.50,91.54 L926.75,91.54 L927.00,91.54 L927.25,91.54 L927.50,91.54 L927.75,91.54 L928.00,91.54 L928.25,91.54 L928.50,91.54 L928.75,91.54 L929.00,91.54 L929.25,91.54 L929.50,91.54 L929.75,91.54 L930.00,91.54 L930.25,91.54 L930.50,91.54 L930.75,91.54 L931.00,91.54 L931.25,91.54 L931.50,91.54 L931.75,91.54 L932.00,91.54 L932.25,91.54 L932.50,91.54 L932.75,91.54 L933.00,91.54 L933.25,91.54 L933.50,91.54 L933.75,91.54 L934.00,91.54 L934.25,91.54 L934.50,91.54 L934.75,91.54 L935.00,91.54 L935.25,91.54 L935.50,91.54 L935.75,91.54 L936.00,91.54 L936.25,91.54 L936.50,91.54 L936.75,91.54 L937.00,91.54 L937.25,91.54 L937.50,91.54 L937.75,91.54 L938.00,91.54" fill="none" stroke="#00ff00" stroke-width="2.5" stroke-linejoin="round"/>
<g fill="#00ff00" clip-path="url(#clip)"><path d="M121.60,516.90 L130.35,532.05 L112.85,532.05Z"/>
<path d="M162.43,515.20 L171.18,530.35 L153.68,530.35Z"/>
<path d="M203.26,513.90 L212.01,529.05 L194.51,529.05Z"/>
<path d="M244.09,512.00 L252.84,527.15 L235.34,527.15Z"/>
<path d="M284.92,510.30 L293.67,525.45 L276.17,525.45Z"/>
<path d="M325.75,508.30 L334.50,523.45 L317.00,523.45Z"/>
<path d="M366.58,505.60 L375.33,520.75 L357.83,520.75Z"/>
<path d="M407.41,502.10 L416.16,517.25 L398.66,517.25Z"/>
<path d="M448.24,498.40 L456.99,513.55 L439.49,513.55Z"/>
<path d="M489.07,493.30 L497.82,508.45 L480.32,508.45Z"/>
<path d="M529.90,486.70 L538.65,501.85 L521.15,501.85Z"/>
<path d="M570.73,478.80 L579.48,493.95 L561.98,493.95Z"/>
<path d="M611.56,467.90 L620.31,483.05 L602.81,483.05Z"/>
<path d="M652.39,452.40 L661.14,467.55 L643.64,467.55Z"/>
<path d="M693.22,430.00 L701.97,445.15 L684.47,445.15Z"/>
<path d="M734.05,394.70 L742.80,409.85 L725.30,409.85Z"/>
<path d="M774.88,334.30 L783.63,349.45 L766.13,349.45Z"/>
<path d="M815.71,228.60 L824.46,243.75 L806.96,243.75Z"/>
<path d="M856.54,100.90 L865.29,116.05 L847.79,116.05Z"/>
<path d="M897.37,81.30 L906.12,96.45 L888.62,96.45Z"/>
<path d="M938.20,81.30 L946.95,96.45 L929.45,96.45Z"/></g>
<path d="M121.60,517.97 L123.60,517.88 L125.60,517.79 L127.60,517.69 L129.60,517.60 L131.60,517.51 L133.60,517.41 L135.60,517.32 L137.60,517.22 L139.60,517.13 L141.60,517.03 L143.60,516.93 L145.60,516.84 L147.60,516.74 L149.60,516.64 L151.60,516.54 L153.60,516.44 L155.60,516.34 L157.60,516.23 L159.60,516.13 L161.60,516.03 L163.60,515.93 L165.60,515.82 L167.60,515.72 L169.60,515.61 L171.60,515.50 L173.60,515.40 L175.60,515.29 L177.60,515.18 L179.60,515.07 L181.60,514.96 L183.60,514.85 L185.60,514.74 L187.60,514.63 L189.60,514.51 L191.60,514.40 L193.60,514.28 L195.60,514.17 L197.60,514.05 L199.60,513.93 L201.60,513.82 L203.60,513.70 L205.60,513.58 L207.60,513.46 L209.60,513.34 L211.60,513.21 L213.60,513.09 L215.60,512.97 L217.60,512.84 L219.60,512.72 L221.60,512.59 L223.60,512.46 L225.60,512.33 L227.60,512.20 L229.60,512.07 L231.60,511.94 L233.60,511.81 L235.60,511.68 L237.60,511.54 L239.60,511.41 L241.60,511.27 L243.60,511.14 L245.60,511.00 L247.60,510.86 L249.60,510.72 L251.60,510.58 L253.60,510.43 L255.60,510.29 L257.60,510.15 L259.60,510.00 L261.60,509.85 L263.60,509.71 L265.60,509.56 L267.60,509.41 L269.60,509.26 L271.60,509.10 L273.60,508.95 L275.60,508.79 L277.60,508.64 L279.60,508.48 L281.60,508.32 L283.60,508.16 L285.60,508.00 L287.60,507.84 L289.60,507.68 L291.60,507.51 L293.60,507.34 L295.60,507.18 L297.60,507.01 L299.60,506.84 L301.60,506.67 L303.60,506.49 L305.60,506.32 L307.60,506.14 L309.60,505.96 L311.60,505.79 L313.60,505.61 L315.60,505.42 L317.60,505.24 L319.60,505.05 L321.60,504.87 L323.60,504.68 L325.60,504.49 L327.60,504.30 L329.60,504.11 L331.60,503.91 L333.60,503.71 L335.60,503.52 L337.60,503.32 L339.60,503.12 L341.60,502.91 L343.60,502.71 L345.60,502.50 L347.60,502.29 L349.60,502.08 L351.60,501.87 L353.60,501.65 L355.60,501.44 L357.60,501.22 L359.60,501.00 L361.60,500.78 L363.60,500.55 L365.60,500.33 L367.60,500.10 L369.60,499.87 L371.60,499.64 L373.60,499.40 L375.60,499.16 L377.60,498.92 L379.60,498.68 L381.60,498.44 L383.60,498.19 L385.60,497.94 L387.60,497.69 L389.60,497.44 L391.60,497.19 L393.60,496.93 L395.60,496.67 L397.60,496.40 L399.60,496.14 L401.60,495.87 L403.60,495.60 L405.60,495.32 L407.60,495.05 L409.60,494.77 L411.60,494.49 L413.60,494.20 L415.60,493.91 L417.60,493.62 L419.60,493.33 L421.60,493.03 L423.60,492.73 L425.60,492.43 L427.60,492.13 L429.60,491.82 L431.60,491.50 L433.60,491.19 L435.60,490.87 L437.60,490.55 L439.60,490.22 L441.60,489.89 L443.60,489.56 L445.60,489.22 L447.60,488.88 L449.60,488.54 L451.60,488.19 L453.60,487.84 L455.60,487.49 L457.60,487.13 L459.60,486.76 L461.60,486.40 L463.60,486.02 L465.60,485.65 L467.60,485.27 L469.60,484.89 L471.60,484.50 L473.60,484.10 L475.60,483.71 L477.60,483.30 L479.60,482.90 L481.60,482.49 L483.60,482.07 L485.60,481.65 L487.60,481.22 L489.60,480.79 L491.60,480.35 L493.60,479.91 L495.60,479.46 L497.60,479.01 L499.60,478.55 L501.60,478.09 L503.60,477.62 L505.60,477.14 L507.60,476.66 L509.60,476.18 L511.60,475.68 L513.60,475.18 L515.60,474.68 L517.60,474.16 L519.60,473.64 L521.60,473.12 L523.60,472.58 L525.60,472.04 L527.60,471.50 L529.60,470.94 L531.60,470.38 L533.60,469.81 L535.60,469.24 L537.60,468.65 L539.60,468.06 L541.60,467.46 L543.60,466.85 L545.60,466.23 L547.60,465.61 L549.60,464.97 L551.60,464.33 L553.60,463.68 L555.60,463.02 L557.60,462.35 L559.60,461.67 L561.60,460.98 L563.60,460.28 L565.60,459.56 L567.60,458.84 L569.60,458.11 L571.60,457.37 L573.60,456.62 L575.60,455.85 L577.60,455.08 L579.60,454.29 L581.60,453.49 L583.60,452.68 L585.60,451.85 L587.60,451.02 L589.60,450.17 L591.60,449.30 L593.60,448.43 L595.60,447.54 L597.60,446.63 L599.60,445.71 L601.60,444.78 L603.60,443.83 L605.60,442.86 L607.60,441.88 L609.60,440.88 L611.60,439.87 L613.60,438.84 L615.60,437.79 L617.60,436.73 L619.60,435.64 L621.60,434.54 L623.60,433.42 L625.60,432.28 L627.60,431.12 L629.60,429.94 L631.60,428.74 L633.60,427.52 L635.60,426.28 L637.60,425.01 L639.60,423.72 L641.60,422.41 L643.60,421.07 L645.60,419.71 L647.60,418.33 L649.60,416.92 L651.60,415.48 L653.60,414.02 L655.60,412.52 L657.60,411.00 L659.60,409.45 L661.60,407.88 L663.60,406.27 L665.60,404.63 L667.60,402.95 L669.60,401.25 L671.60,399.51 L673.60,397.74 L675.60,395.93 L677.60,394.09 L679.60,392.21 L681.60,390.29 L683.60,388.33 L685.60,386.33 L687.60,384.29 L689.60,382.21 L691.60,380.09 L693.60,377.92 L695.60,375.71 L697.60,373.45 L699.60,371.15 L700.00,370.68 L700.25,370.39 L700.50,370.09 L700.75,369.80 L701.00,369.51 L701.25,369.21 L701.50,368.91 L701.75,368.62 L702.00,368.32 L702.25,368.02 L702.50,367.72 L702.75,367.42 L703.00,367.12 L703.25,366.81 L703.50,366.51 L703.75,366.21 L704.00,365.90 L704.25,365.60 L704.50,365.29 L704.75,364.99 L705.00,364.68 L705.25,364.37 L705.50,364.06 L705.75,363.75 L706.00,363.44 L706.25,363.13 L706.50,362.81 L706.75,362.50 L707.00,362.19 L707.25,361.87 L707.50,361.56 L707.75,361.24 L708.00,360.92 L708.25,360.60 L708.50,360.28 L708.75,359.96 L709.00,359.64 L709.25,359.32 L709.50,359.00 L709.75,358.68 L710.00,358.35 L710.25,358.03 L710.50,357.70 L710.75,357.37 L711.00,357.05 L711.25,356.72 L711.50,356.39 L711.75,356.06 L712.00,355.73 L712.25,355.39 L712.50,355.06 L712.75,354.73 L713.00,354.39 L713.25,354.06 L713.50,353.72 L713.75,353.38 L714.00,353.04 L714.25,352.71 L714.50,352.37 L714.75,352.02 L715.00,351.68 L715.25,351.34 L715.50,351.00 L715.75,350.65 L716.00,350.31 L716.25,349.96 L716.50,349.61 L716.75,349.26 L717.00,348.91 L717.25,348.56 L717.50,348.21 L717.75,347.86 L718.00,347.51 L718.25,347.16 L718.50,346.80 L718.75,346.44 L719.00,346.09 L719.25,345.73 L719.50,345.37 L719.75,345.01 L720.00,344.65 L720.25,344.29 L720.50,343.93 L720.75,343.56 L721.00,343.20 L721.25,342.84 L721.50,342.47 L721.75,342.10 L722.00,341.73 L722.25,341.36 L722.50,340.99 L722.75,340.62 L723.00,340.25 L723.25,339.88 L723.50,339.50 L723.75,339.13 L724.00,338.75 L724.25,338.38 L724.50,338.00 L724.75,337.62 L725.00,337.24 L725.25,336.86 L725.50,336.48 L725.75,336.09 L726.00,335.71 L726.25,335.32 L726.50,334.94 L726.75,334.55 L727.00,334.16 L727.25,333.77 L727.50,333.38 L727.75,332.99 L728.00,332.60 L728.25,332.21 L728.50,331.81 L728.75,331.42 L729.00,331.02 L729.25,330.62 L729.50,330.22 L729.75,329.82 L730.00,329.42 L730.25,329.02 L730.50,328.62 L730.75,328.22 L731.00,327.81 L731.25,327.40 L731.50,327.00 L731.75,326.59 L732.00,326.18 L732.25,325.77 L732.50,325.36 L732.75,324.95 L733.00,324.53 L733.25,324.12 L733.50,323.70 L733.75,323.29 L734.00,322.87 L734.25,322.45 L734.50,322.03 L734.75,321.61 L735.00,321.19 L735.25,320.76 L735.50,320.34 L735.75,319.91 L736.00,319.49 L736.25,319.06 L736.50,318.63 L736.75,318.20 L737.00,317.77 L737.25,317.34 L737.50,316.90 L737.75,316.47 L738.00,316.03 L738.25,315.60 L738.50,315.16 L738.75,314.72 L739.00,314.28 L739.25,313.84 L739.50,313.40 L739.75,312.95 L740.00,312.51 L740.25,312.06 L740.50,311.62 L740.75,311.17 L741.00,310.72 L741.25,310.27 L741.50,309.82 L741.75,309.36 L742.00,308.91 L742.25,308.46 L742.50,308.00 L742.75,307.54 L743.00,307.08 L743.25,306.62 L743.50,306.16 L743.75,305.70 L744.00,305.24 L744.25,304.77 L744.50,304.31 L744.75,303.84 L745.00,303.37 L745.25,302.91 L745.50,302.44 L745.75,301.96 L746.00,301.49 L746.25,301.02 L746.50,300.54 L746.75,300.07 L747.00,299.59 L747.25,299.11 L747.50,298.63 L747.75,298.15 L748.00,297.67 L748.25,297.19 L748.50,296.70 L748.75,296.21 L749.00,295.73 L749.25,295.24 L749.50,294.75 L749.75,294.26 L750.00,293.77 L750.25,293.28 L750.50,292.78 L750.75,292.29 L751.00,291.79 L751.25,291.29 L751.50,290.79 L751.75,290.29 L752.00,289.79 L752.25,289.29 L752.50,288.79 L752.75,288.28 L753.00,287.78 L753.25,287.27 L753.50,286.76 L753.75,286.25 L754.00,285.74 L754.25,285.23 L754.50,284.71 L754.75,284.20 L755.00,283.68 L755.25,283.17 L755.50,282.65 L755.75,282.13 L756.00,281.61 L756.25,281.09 L756.50,280.56 L756.75,280.04 L757.00,279.51 L757.25,278.99 L757.50,278.46 L757.75,277.93 L758.00,277.40 L758.25,276.87 L758.50,276.34 L758.75,275.80 L759.00,275.27 L759.25,274.73 L759.50,274.19 L759.75,273.65 L760.00,273.11 L760.25,272.57 L760.50,272.03 L760.75,271.49 L761.00,270.94 L761.25,270.40 L761.50,269.85 L761.75,269.30 L762.00,268.75 L762.25,268.20 L762.50,267.65 L762.75,267.10 L763.00,266.54 L763.25,265.99 L763.50,265.43 L763.75,264.87 L764.00,264.31 L764.25,263.75 L764.50,263.19 L764.75,262.63 L765.00,262.07 L765.25,261.50 L765.50,260.93 L765.75,260.37 L766.00,259.80 L766.25,259.23 L766.50,258.66 L766.75,258.09 L767.00,257.51 L767.25,256.94 L767.50,256.37 L767.75,255.79 L768.00,255.21 L768.25,254.63 L768.50,254.05 L768.75,253.47 L769.00,252.89 L769.25,252.31 L769.50,251.72 L769.75,251.14 L770.00,250.55 L770.25,249.96 L770.50,249.38 L770.75,248.79 L771.00,248.20 L771.25,247.60 L771.50,247.01 L771.75,246.42 L772.00,245.82 L772.25,245.23 L772.50,244.63 L772.75,244.03 L773.00,243.43 L773.25,242.83 L773.50,242.23 L773.75,241.63 L774.00,241.02 L774.25,240.42 L774.50,239.82 L774.75,239.21 L775.00,238.60 L775.25,237.99 L775.50,237.38 L775.75,236.77 L776.00,236.16 L776.25,235.55 L776.50,234.94 L776.75,234.32 L777.00,233.71 L777.25,233.09 L777.50,232.48 L777.75,231.86 L778.00,231.24 L778.25,230.62 L778.50,230.00 L778.75,229.38 L779.00,228.76 L779.25,228.13 L779.50,227.51 L779.75,226.88 L780.00,226.26 L780.25,225.63 L780.50,225.01 L780.75,224.38 L781.00,223.75 L781.25,223.12 L781.50,222.49 L781.75,221.86 L782.00,221.23 L782.25,220.59 L782.50,219.96 L782.75,219.33 L783.00,218.69 L783.25,218.06 L783.50,217.42 L783.75,216.78 L784.00,216.14 L784.25,215.51 L784.50,214.87 L784.75,214.23 L785.00,213.59 L785.25,212.95 L785.50,212.31 L785.75,211.66 L786.00,211.02 L786.25,210.38 L786.50,209.73 L786.75,209.09 L787.00,208.45 L787.25,207.80 L787.50,207.16 L787.75,206.51 L788.00,205.86 L788.25,205.22 L788.50,204.57 L788.75,203.92 L789.00,203.27 L789.25,202.62 L789.50,201.97 L789.75,201.32 L790.00,200.68 L790.25,200.03 L790.50,199.37 L790.75,198.72 L791.00,198.07 L791.25,197.42 L791.50,196.77 L791.75,196.12 L792.00,195.47 L792.25,194.82 L792.50,194.16 L792.75,193.51 L793.00,192.86 L793.25,192.21 L793.50,191.55 L793.75,190.90 L794.00,190.25 L794.25,189.59 L794.50,188.94 L794.75,188.29 L795.00,187.64 L795.25,186.98 L795.50,186.33 L795.75,185.68 L796.00,185.02 L796.25,184.37 L796.50,183.72 L796.75,183.07 L797.00,182.41 L797.25,181.76 L797.50,181.11 L797.75,180.46 L798.00,179.81 L798.25,179.16 L798.50,178.51 L798.75,177.86 L799.00,177.21 L799.25,176.56 L799.50,175.91 L799.75,175.26 L800.00,174.61 L800.25,173.96 L800.50,173.32 L800.75,172.67 L801.00,172.02 L801.25,171.38 L801.50,170.73 L801.75,170.09 L802.00,169.44 L802.25,168.80 L802.50,168.16 L802.75,167.52 L803.00,166.88 L803.25,166.24 L803.50,165.60 L803.75,164.96 L804.00,164.32 L804.25,163.68 L804.50,163.05 L804.75,162.41 L805.00,161.78 L805.25,161.14 L805.50,160.51 L805.75,159.88 L806.00,159.25 L806.25,158.62 L806.50,157.99 L806.75,157.37 L807.00,156.74 L807.25,156.12 L807.50,155.49 L807.75,154.87 L808.00,154.25 L808.25,153.63 L808.50,153.01 L808.75,152.40 L809.00,151.78 L809.25,151.17 L809.50,150.56 L809.75,149.94 L810.00,149.34 L810.25,148.73 L810.50,148.12 L810.75,147.52 L811.00,146.91 L811.25,146.31 L811.50,145.71 L811.75,145.12 L812.00,144.52 L812.25,143.93 L812.50,143.33 L812.75,142.74 L813.00,142.15 L813.25,141.57 L813.50,140.98 L813.75,140.40 L814.00,139.82 L814.25,139.24 L814.50,138.66 L814.75,138.09 L815.00,137.52 L815.25,136.95 L815.50,136.38 L815.75,135.81 L816.00,135.25 L816.25,134.69 L816.50,134.13 L816.75,133.57 L817.00,133.02 L817.25,132.47 L817.50,131.92 L817.75,131.37 L818.00,130.83 L818.25,130.28 L818.50,129.74 L818.75,129.21 L819.00,128.67 L819.25,128.14 L819.50,127.61 L819.75,127.09 L820.00,126.57 L820.25,126.05 L820.50,125.53 L820.75,125.01 L821.00,124.50 L821.25,123.99 L821.50,123.49 L821.75,122.98 L822.00,122.49 L822.25,121.99 L822.50,121.50 L822.75,121.00 L823.00,120.52 L823.25,120.03 L823.50,119.55 L823.75,119.08 L824.00,118.60 L824.25,118.13 L824.50,117.66 L824.75,117.20 L825.00,116.74 L825.25,116.28 L825.50,115.83 L825.75,115.38 L826.00,114.93 L826.25,114.49 L826.50,114.05 L826.75,113.61 L827.00,113.18 L827.25,112.75 L827.50,112.32 L827.75,111.90 L828.00,111.48 L828.25,111.07 L828.50,110.66 L828.75,110.25 L829.00,109.85 L829.25,109.45 L829.50,109.06 L829.75,108.66 L830.00,108.28 L830.25,107.89 L830.50,107.52 L830.75,107.14 L831.00,106.77 L831.25,106.40 L831.50,106.04 L831.75,105.68 L832.00,105.33 L832.25,104.98 L832.50,104.63 L832.75,104.29 L833.00,103.95 L833.25,103.62 L833.50,103.29 L833.75,102.96 L834.00,102.64 L834.25,102.33 L834.50,102.01 L834.75,101.71 L835.00,101.40 L835.25,101.11 L835.50,100.81 L835.75,100.52 L836.00,100.24 L836.25,99.95 L836.50,99.68 L836.75,99.41 L837.00,99.14 L837.25,98.88 L837.50,98.62 L837.75,98.36 L838.00,98.11 L838.25,97.87 L838.50,97.63 L838.75,97.39 L839.00,97.16 L839.25,96.94 L839.50,96.72 L839.75,96.50 L840.00,96.29 L840.25,96.08 L840.50,95.88 L840.75,95.68 L841.00,95.48 L841.25,95.30 L841.50,95.11 L841.75,94.93 L842.00,94.76 L842.25,94.59 L842.50,94.42 L842.75,94.26 L843.00,94.10 L843.25,93.95 L843.50,93.81 L843.75,93.67 L844.00,93.53 L844.25,93.40 L844.50,93.27 L844.75,93.14 L845.00,93.03 L845.25,92.91 L845.50,92.80 L845.75,92.70 L846.00,92.60 L846.25,92.50 L846.50,92.41 L846.75,92.33 L847.00,92.25 L847.25,92.17 L847.50,92.10 L847.75,92.03 L848.00,91.97 L848.25,91.91 L848.50,91.85 L848.75,91.80 L849.00,91.76 L849.25,91.72 L849.50,91.68 L849.75,91.65 L850.00,91.62 L850.25,91.60 L850.50,91.58 L850.75,91.56 L851.00,91.55 L851.25,91.54 L851.50,91.54 L851.75,91.54 L852.00,91.54 L852.25,91.54 L852.50,91.54 L852.75,91.54 L853.00,91.54 L853.25,91.54 L853.50,91.54 L853.75,91.54 L854.00,91.54 L854.25,91.54 L854.50,91.54 L854.75,91.54 L855.00,91.54 L855.25,91.54 L855.50,91.54 L855.75,91.54 L856.00,91.54 L856.25,91.54 L856.50,91.54 L856.75,91.54 L857.00,91.54 L857.25,91.54 L857.50,91.54 L857.75,91.54 L858.00,91.54 L858.25,91.54 L858.50,91.54 L858.75,91.54 L859.00,91.54 L859.25,91.54 L859.50,91.54 L859.75,91.54 L860.00,91.54 L860.25,91.54 L860.50,91.54 L860.75,91.54 L861.00,91.54 L861.25,91.54 L861.50,91.54 L861.75,91.54 L862.00,91.54 L862.25,91.54 L862.50,91.54 L862.75,91.54 L863.00,91.54 L863.25,91.54 L863.50,91.54 L863.75,91.54 L864.00,91.54 L864.25,91.54 L864.50,91.54 L864.75,91.54 L865.00,91.54 L865.25,91.54 L865.50,91.54 L865.75,91.54 L866.00,91.54 L866.25,91.54 L866.50,91.54 L866.75,91.54 L867.00,91.54 L867.25,91.54 L867.50,91.54 L867.75,91.54 L868.00,91.54 L868.25,91.54 L868.50,91.54 L868.75,91.54 L869.00,91.54 L869.25,91.54 L869.50,91.54 L869.75,91.54 L870.00,91.54 L870.25,91.54 L870.50,91.54 L870.75,91.54 L871.00,91.54 L871.25,91.54 L871.50,91.54 L871.75,91.54 L872.00,91.54 L872.25,91.54 L872.50,91.54 L872.75,91.54 L873.00,91.54 L873.25,91.54 L873.50,91.54 L873.75,91.54 L874.00,91.54 L874.25,91.54 L874.50,91.54 L874.75,91.54 L875.00,91.54 L875.25,91.54 L875.50,91.54 L875.75,91.54 L876.00,91.54 L876.25,91.54 L876.50,91.54 L876.75,91.54 L877.00,91.54 L877.25,91.54 L877.50,91.54 L877.75,91.54 L878.00,91.54 L878.25,91.54 L878.50,91.54 L878.75,91.54 L879.00,91.54 L879.25,91.54 L879.50,91.54 L879.75,91.54 L880.00,91.54 L880.25,91.54 L880.50,91.54 L880.75,91.54 L881.00,91.54 L881.25,91.54 L881.50,91.54 L881.75,91.54 L882.00,91.54 L882.25,91.54 L882.50,91.54 L882.75,91.54 L883.00,91.54 L883.25,91.54 L883.50,91.54 L883.75,91.54 L884.00,91.54 L884.25,91.54 L884.50,91.54 L884.75,91.54 L885.00,91.54 L885.25,91.54 L885.50,91.54 L885.75,91.54 L886.00,91.54 L886.25,91.54 L886.50,91.54 L886.75,91.54 L887.00,91.54 L887.25,91.54 L887.50,91.54 L887.75,91.54 L888.00,91.54 L888.25,91.54 L888.50,91.54 L888.75,91.54 L889.00,91.54 L889.25,91.54 L889.50,91.54 L889.75,91.54 L890.00,91.54 L890.25,91.54 L890.50,91.54 L890.75,91.54 L891.00,91.54 L891.25,91.54 L891.50,91.54 L891.75,91.54 L892.00,91.54 L892.25,91.54 L892.50,91.54 L892.75,91.54 L893.00,91.54 L893.25,91.54 L893.50,91.54 L893.75,91.54 L894.00,91.54 L894.25,91.54 L894.50,91.54 L894.75,91.54 L895.00,91.54 L895.25,91.54 L895.50,91.54 L895.75,91.54 L896.00,91.54 L896.25,91.54 L896.50,91.54 L896.75,91.54 L897.00,91.54 L897.25,91.54 L897.50,91.54 L897.75,91.54 L898.00,91.54 L898.25,91.54 L898.50,91.54 L898.75,91.54 L899.00,91.54 L899.25,91.54 L899.50,91.54 L899.75,91.54 L900.00,91.54 L900.25,91.54 L900.50,91.54 L900.75,91.54 L901.00,91.54 L901.25,91.54 L901.50,91.54 L901.75,91.54 L902.00,91.54 L902.25,91.54 L902.50,91.54 L902.75,91.54 L903.00,91.54 L903.25,91.54 L903.50,91.54 L903.75,91.54 L904.00,91.54 L904.25,91.54 L904.50,91.54 L904.75,91.54 L905.00,91.54 L905.25,91.54 L905.50,91.54 L905.75,91.54 L906.00,91.54 L906.25,91.54 L906.50,91.54 L906.75,91.54 L907.00,91.54 L907.25,91.54 L907.50,91.54 L907.75,91.54 L908.00,91.54 L908.25,91.54 L908.50,91.54 L908.75,91.54 L909.00,91.54 L909.25,91.54 L909.50,91.54 L909.75,91.54 L910.00,91.54 L910.25,91.54 L910.50,91.54 L910.75,91.54 L911.00,91.54 L911.25,91.54 L911.50,91.54 L911.75,91.54 L912.00,91.54 L912.25,91.54 L912.50,91.54 L912.75,91.54 L913.00,91.54 L913.25,91.54 L913.50,91.54 L913.75,91.54 L914.00,91.54 L914.25,91.54 L914.50,91.54 L914.75,91.54 L915.00,91.54 L915.25,91.54 L915.50,91.54 L915.75,91.54 L916.00,91.54 L916.25,91.54 L916.50,91.54 L916.75,91.54 L917.00,91.54 L917.25,91.54 L917.50,91.54 L917.75,91.54 L918.00,91.54 L918.25,91.54 L918.50,91.54 L918.75,91.54 L919.00,91.54 L919.25,91.54 L919.50,91.54 L919.75,91.54 L920.00,91.54 L920.25,91.54 L920.50,91.54 L920.75,91.54 L921.00,91.54 L921.25,91.54 L921.50,91.54 L921.75,91.54 L922.00,91.54 L922.25,91.54 L922.50,91.54 L922.75,91.54 L923.00,91.54 L923.25,91.54 L923.50,91.54 L923.75,91.54 L924.00,91.54 L924.25,91.54 L924.50,91.54 L924.75,91.54 L925.00,91.54 L925.25,91.54 L925.50,91.54 L925.75,91.54 L926.00,91.54 L926.25,91.54 L926.50,91.54 L926.75,91.54 L927.00,91.54 L927.25,91.54 L927.50,91.54 L927.75,91.54 L928.00,91.54 L928.25,91.54 L928.50,91.54 L928.75,91.54 L929.00,91.54 L929.25,91.54 L929.50,91.54 L929.75,91.54 L930.00,91.54 L930.25,91.54 L930.50,91.54 L930.75,91.54 L931.00,91.54 L931.25,91.54 L931.50,91.54 L931.75,91.54 L932.00,91.54 L932.25,91.54 L932.50,91.54 L932.75,91.54 L933.00,91.54 L933.25,91.54 L933.50,91.54 L933.75,91.54 L934.00,91.54 L934.25,91.54 L934.50,91.54 L934.75,91.54 L935.00,91.54 L935.25,91.54 L935.50,91.54 L935.75,91.54 L936.00,91.54 L936.25,91.54 L936.50,91.54 L936.75,91.54 L937.00,91.54 L937.25,91.54 L937.50,91.54 L937.75,91.54 L938.00,91.54" fill="none" stroke="#0000ff" stroke-width="2.5" stroke-linejoin="round"/>
<g fill="#0000ff" clip-path="url(#clip)"><path d="M121.60,528.00 L130.35,512.85 L112.85,512.85Z"/>
<path d="M162.43,526.30 L171.18,511.15 L153.68,511.15Z"/>
<path d="M203.26,523.90 L212.01,508.75 L194.51,508.75Z"/>
<path d="M244.09,521.10 L252.84,505.95 L235.34,505.95Z"/>
<path d="M284.92,518.20 L293.67,503.05 L276.17,503.05Z"/>
<path d="M325.75,514.40 L334.50,499.25 L317.00,499.25Z"/>
<path d="M366.58,510.30 L375.33,495.15 L357.83,495.15Z"/>
<path d="M407.41,505.20 L416.16,490.05 L398.66,490.05Z"/>
<path d="M448.24,498.70 L456.99,483.55 L439.49,483.55Z"/>
<path d="M489.07,491.10 L497.82,475.95 L480.32,475.95Z"/>
<path d="M529.90,481.00 L538.65,465.85 L521.15,465.85Z"/>
<path d="M570.73,467.60 L579.48,452.45 L561.98,452.45Z"/>
<path d="M611.56,450.30 L620.31,435.15 L602.81,435.15Z"/>
<path d="M652.39,425.10 L661.14,409.95 L643.64,409.95Z"/>
<path d="M693.22,388.40 L701.97,373.25 L684.47,373.25Z"/>
<path d="M734.05,332.40 L742.80,317.25 L725.30,317.25Z"/>
<path d="M774.88,248.10 L783.63,232.95 L766.13,232.95Z"/>
<path d="M815.71,146.40 L824.46,131.25 L806.96,131.25Z"/>
<path d="M856.54,101.50 L865.29,86.35 L847.79,86.35Z"/>
<path d="M897.37,101.50 L906.12,86.35 L888.62,86.35Z"/>
<path d="M938.20,101.50 L946.95,86.35 L929.45,86.35Z"/></g>
<g stroke="#000000" stroke-width="1.6" stroke-opacity="0.82" fill="none"><line x1="722" y1="177.2" x2="894.9" y2="223.6"/><polyline points="885.39,225.97 894.9,223.6 887.85,216.79"/></g>
<g stroke="#ff0000" stroke-width="1.6" stroke-opacity="0.82" fill="none"><line x1="666.3" y1="248.3" x2="839.3" y2="293.8"/><polyline points="829.80,296.21 839.3,293.8 832.22,287.02"/></g>
<g stroke="#00ff00" stroke-width="1.6" stroke-opacity="0.82" fill="none"><line x1="590.1" y1="310.6" x2="763.1" y2="356.4"/><polyline points="753.60,358.80 763.1,356.4 756.03,349.61"/></g>
<g stroke="#0000ff" stroke-width="1.6" stroke-opacity="0.82" fill="none"><line x1="491.6" y1="350.7" x2="665.3" y2="397.2"/><polyline points="655.79,399.57 665.3,397.2 658.25,390.39"/></g>
<text transform="translate(58.13,630.10) scale(1.05,1.04)" style="font-size:34px">0</text>
<text transform="translate(75.20,630.10) scale(1.0,1.04)" style="font-size:34px">.</text>
<text transform="translate(83.14,630.10) scale(1.05,1.04)" style="font-size:34px">0</text>
<text transform="translate(58.13,479.23) scale(1.05,1.04)" style="font-size:34px">0</text>
<text transform="translate(75.20,479.23) scale(1.0,1.04)" style="font-size:34px">.</text>
<text transform="translate(84.25,479.23) scale(0.85,1.04)" style="font-size:34px">1</text>
<text transform="translate(58.13,328.35) scale(1.05,1.04)" style="font-size:34px">0</text>
<text transform="translate(75.20,328.35) scale(1.0,1.04)" style="font-size:34px">.</text>
<text transform="translate(82.70,328.35) scale(1.0,1.04)" style="font-size:34px">2</text>
<text transform="translate(58.13,177.48) scale(1.05,1.04)" style="font-size:34px">0</text>
<text transform="translate(75.20,177.48) scale(1.0,1.04)" style="font-size:34px">.</text>
<text transform="translate(83.50,177.48) scale(0.94,1.04)" style="font-size:34px">3</text>
<text transform="translate(58.13,26.60) scale(1.05,1.04)" style="font-size:34px">0</text>
<text transform="translate(75.20,26.60) scale(1.0,1.04)" style="font-size:34px">.</text>
<text transform="translate(83.30,26.60) scale(1.0,1.04)" style="font-size:34px">4</text>
<text transform="translate(98.60,666.50) scale(1.0,1.04)" style="font-size:34px">-</text>
<text transform="translate(109.40,666.50) scale(1.0,1.04)" style="font-size:34px">2</text>
<text transform="translate(126.44,666.50) scale(1.05,1.04)" style="font-size:34px">0</text>
<text transform="translate(302.90,666.50) scale(1.0,1.04)" style="font-size:34px">-</text>
<text transform="translate(314.60,666.50) scale(0.85,1.04)" style="font-size:34px">1</text>
<text transform="translate(330.54,666.50) scale(0.93,1.04)" style="font-size:34px">5</text>
<text transform="translate(507.40,666.50) scale(1.0,1.04)" style="font-size:34px">-</text>
<text transform="translate(519.10,666.50) scale(0.85,1.04)" style="font-size:34px">1</text>
<text transform="translate(535.24,666.50) scale(1.05,1.04)" style="font-size:34px">0</text>
<text transform="translate(719.80,666.50) scale(1.0,1.04)" style="font-size:34px">-</text>
<text transform="translate(731.04,666.50) scale(0.93,1.04)" style="font-size:34px">5</text>
<text transform="translate(929.24,666.50) scale(1.05,1.04)" style="font-size:34px">0</text>
<text transform="translate(502.10,714.60) scale(1.0,1.03)" style="font-size:34px" font-style="italic">T</text>
<text transform="translate(520.50,714.60) scale(1.0,1.055)" style="font-size:34px">/</text>
<text transform="translate(537.66,714.60) scale(0.9,1.02)" style="font-size:34px">°</text>
<text transform="translate(549.20,714.60) scale(1.0,1.04)" style="font-size:34px">C</text>
<text transform="translate(554.10,171.60) scale(1.0,1.055)" style="font-size:34px" font-style="italic">T</text>
<text transform="translate(572.03,178.80) scale(1.1,1.055)" style="font-size:21.5px">f</text>
<text transform="translate(585.20,171.60) scale(1.0,1.055)" style="font-size:34px">/</text>
<text transform="translate(594.20,171.60) scale(1.0,1.055)" style="font-size:34px" font-style="italic">T</text>
<text transform="translate(613.80,179.00) scale(1.0,1.055)" style="font-size:21.5px">t</text>
<text transform="translate(623.30,171.60) scale(1.12,1.055)" style="font-size:34px">=</text>
<text transform="translate(652.35,171.60) scale(0.965,1.055)" style="font-size:34px">-0.5</text>
<text transform="translate(713.76,171.60) scale(0.9,1.055)" style="font-size:34px">°</text>
<text transform="translate(726.86,171.60) scale(0.955,1.055)" style="font-size:34px">C</text>
<text transform="translate(492.50,233.60) scale(1.0,1.055)" style="font-size:34px" font-style="italic">T</text>
<text transform="translate(510.43,240.80) scale(1.1,1.055)" style="font-size:21.5px">f</text>
<text transform="translate(523.60,233.60) scale(1.0,1.055)" style="font-size:34px">/</text>
<text transform="translate(532.60,233.60) scale(1.0,1.055)" style="font-size:34px" font-style="italic">T</text>
<text transform="translate(552.20,241.00) scale(1.0,1.055)" style="font-size:21.5px">t</text>
<text transform="translate(561.70,233.60) scale(1.12,1.055)" style="font-size:34px">=</text>
<text transform="translate(590.75,233.60) scale(0.965,1.055)" style="font-size:34px">-1.0</text>
<text transform="translate(652.16,233.60) scale(0.9,1.055)" style="font-size:34px">°</text>
<text transform="translate(665.26,233.60) scale(0.955,1.055)" style="font-size:34px">C</text>
<text transform="translate(432.90,295.60) scale(1.0,1.055)" style="font-size:34px" font-style="italic">T</text>
<text transform="translate(450.83,302.80) scale(1.1,1.055)" style="font-size:21.5px">f</text>
<text transform="translate(464.00,295.60) scale(1.0,1.055)" style="font-size:34px">/</text>
<text transform="translate(473.00,295.60) scale(1.0,1.055)" style="font-size:34px" font-style="italic">T</text>
<text transform="translate(492.60,303.00) scale(1.0,1.055)" style="font-size:21.5px">t</text>
<text transform="translate(496.10,295.60) scale(1.12,1.055)" style="font-size:34px">=</text>
<text transform="translate(525.15,295.60) scale(0.965,1.055)" style="font-size:34px">-1.5</text>
<text transform="translate(586.56,295.60) scale(0.9,1.055)" style="font-size:34px">°</text>
<text transform="translate(599.66,295.60) scale(0.955,1.055)" style="font-size:34px">C</text>
<text transform="translate(292.70,343.80) scale(1.0,1.055)" style="font-size:34px" font-style="italic">T</text>
<text transform="translate(310.63,351.00) scale(1.1,1.055)" style="font-size:21.5px">f</text>
<text transform="translate(323.80,343.80) scale(1.0,1.055)" style="font-size:34px">/</text>
<text transform="translate(332.80,343.80) scale(1.0,1.055)" style="font-size:34px" font-style="italic">T</text>
<text transform="translate(352.40,351.20) scale(1.0,1.055)" style="font-size:21.5px">t</text>
<text transform="translate(361.90,343.80) scale(1.12,1.055)" style="font-size:34px">=</text>
<text transform="translate(390.95,343.80) scale(0.965,1.055)" style="font-size:34px">-2.0</text>
<text transform="translate(452.36,343.80) scale(0.9,1.055)" style="font-size:34px">°</text>
<text transform="translate(465.46,343.80) scale(0.955,1.055)" style="font-size:34px">C</text>
<g transform="translate(29.1,371.7) rotate(-90)"><text transform="translate(-1.70,0.00) scale(1.0,1.055)" style="font-size:34px" font-style="italic">θ</text><text transform="translate(15.80,7.30) scale(1.0,1.055)" style="font-size:21.5px">u</text><text transform="translate(27.30,0.00) scale(1.0,1.055)" style="font-size:34px">/</text><text transform="translate(35.40,0.00) scale(1.0,1.055)" style="font-size:34px">cm</text><text transform="translate(74.00,-10.80) scale(1.0,1.055)" style="font-size:21.5px">3</text><text transform="translate(87.80,0.00) scale(1.0,1.055)" style="font-size:34px">/</text><text transform="translate(97.10,0.00) scale(1.0,1.055)" style="font-size:34px">cm</text><text transform="translate(137.40,-10.80) scale(1.0,1.055)" style="font-size:21.5px">3</text></g>
</svg>
</body></html>
